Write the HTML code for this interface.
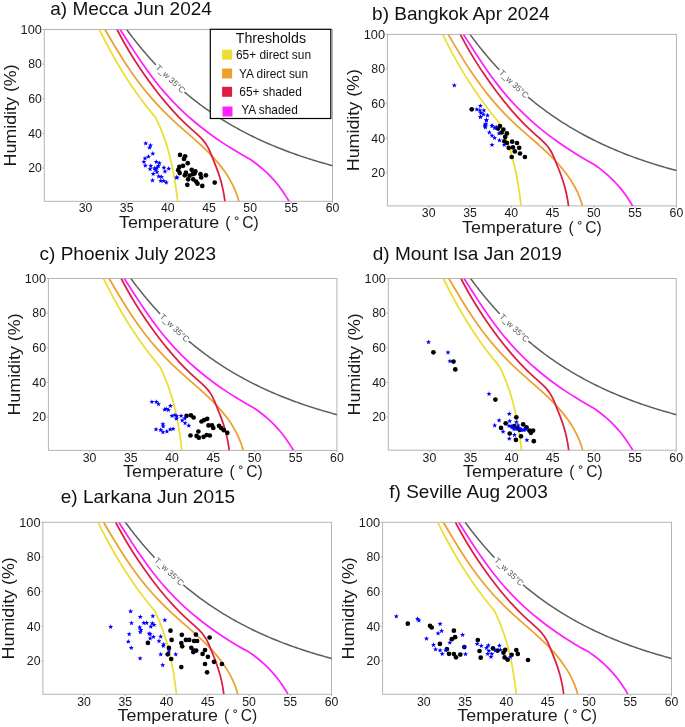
<!DOCTYPE html>
<html><head><meta charset="utf-8"><style>
html,body{margin:0;padding:0;background:#fff;}
body{width:685px;height:727px;overflow:hidden;}
svg{display:block;will-change:transform;}
text{font-family:"Liberation Sans",sans-serif;fill:#1a1a1a;}
.tk{font-size:12.4px;}
.al{font-size:15.6px;}
.ti{font-size:19px;fill:#111;}
.lg{font-size:11.9px;fill:#111;}
.lt{font-size:14.2px;fill:#111;}
.tw{font-size:8.4px;fill:#555;}
</style></head><body>
<svg width="685" height="727" viewBox="0 0 685 727"><defs><clipPath id="clipa"><rect x="44.3" y="29.5" width="288.20" height="171.80"/></clipPath><clipPath id="clipb"><rect x="387.4" y="34.4" width="289.00" height="171.50"/></clipPath><clipPath id="clipc"><rect x="48.4" y="278.5" width="288.50" height="171.90"/></clipPath><clipPath id="clipd"><rect x="388.3" y="278.5" width="287.90" height="171.70"/></clipPath><clipPath id="clipe"><rect x="42.9" y="522.3" width="288.60" height="172.00"/></clipPath><clipPath id="clipf"><rect x="382.6" y="522.3" width="288.90" height="172.00"/></clipPath><path id="star" d="M0.000,-2.650 L0.658,-0.906 L2.520,-0.819 L1.065,0.346 L1.558,2.144 L0.000,1.120 L-1.558,2.144 L-1.065,0.346 L-2.520,-0.819 L-0.658,-0.906Z"/></defs><rect width="685" height="727" fill="#fff"/><rect x="44.3" y="29.5" width="288.20" height="171.80" fill="none" stroke="#b4b4b4" stroke-width="1"/><line x1="42.5" y1="168.06" x2="44.3" y2="168.06" stroke="#b4b4b4" stroke-width="1"/><text x="28.24" y="172.36" class="tk" textLength="13.66" lengthAdjust="spacingAndGlyphs">20</text><line x1="42.5" y1="133.42" x2="44.3" y2="133.42" stroke="#b4b4b4" stroke-width="1"/><text x="28.24" y="137.72" class="tk" textLength="13.66" lengthAdjust="spacingAndGlyphs">40</text><line x1="42.5" y1="98.78" x2="44.3" y2="98.78" stroke="#b4b4b4" stroke-width="1"/><text x="28.24" y="103.08" class="tk" textLength="13.66" lengthAdjust="spacingAndGlyphs">60</text><line x1="42.5" y1="64.14" x2="44.3" y2="64.14" stroke="#b4b4b4" stroke-width="1"/><text x="28.24" y="68.44" class="tk" textLength="13.66" lengthAdjust="spacingAndGlyphs">80</text><line x1="42.5" y1="29.50" x2="44.3" y2="29.50" stroke="#b4b4b4" stroke-width="1"/><text x="20.59" y="33.80" class="tk" textLength="21.31" lengthAdjust="spacingAndGlyphs">100</text><line x1="85.47" y1="201.3" x2="85.47" y2="203.10000000000002" stroke="#b4b4b4" stroke-width="1"/><text x="78.64" y="211.90" class="tk" textLength="13.66" lengthAdjust="spacingAndGlyphs">30</text><line x1="126.64" y1="201.3" x2="126.64" y2="203.10000000000002" stroke="#b4b4b4" stroke-width="1"/><text x="119.82" y="211.90" class="tk" textLength="13.66" lengthAdjust="spacingAndGlyphs">35</text><line x1="167.81" y1="201.3" x2="167.81" y2="203.10000000000002" stroke="#b4b4b4" stroke-width="1"/><text x="160.99" y="211.90" class="tk" textLength="13.66" lengthAdjust="spacingAndGlyphs">40</text><line x1="208.99" y1="201.3" x2="208.99" y2="203.10000000000002" stroke="#b4b4b4" stroke-width="1"/><text x="202.16" y="211.90" class="tk" textLength="13.66" lengthAdjust="spacingAndGlyphs">45</text><line x1="250.16" y1="201.3" x2="250.16" y2="203.10000000000002" stroke="#b4b4b4" stroke-width="1"/><text x="243.33" y="211.90" class="tk" textLength="13.66" lengthAdjust="spacingAndGlyphs">50</text><line x1="291.33" y1="201.3" x2="291.33" y2="203.10000000000002" stroke="#b4b4b4" stroke-width="1"/><text x="284.50" y="211.90" class="tk" textLength="13.66" lengthAdjust="spacingAndGlyphs">55</text><line x1="332.50" y1="201.3" x2="332.50" y2="203.10000000000002" stroke="#b4b4b4" stroke-width="1"/><text x="325.67" y="211.90" class="tk" textLength="13.66" lengthAdjust="spacingAndGlyphs">60</text><text x="119.00" y="227.70" class="al" textLength="100.30" lengthAdjust="spacingAndGlyphs">Temperature</text><text x="225.30" y="227.70" class="al">(</text><circle cx="236.60" cy="218.20" r="1.45" fill="none" stroke="#1a1a1a" stroke-width="0.9"/><text x="242.20" y="227.70" class="al" textLength="16.50" lengthAdjust="spacingAndGlyphs">C)</text><text transform="translate(15.80,166.50) rotate(-90)" class="al" textLength="102.2" lengthAdjust="spacingAndGlyphs">Humidity (%)</text><text x="50.3" y="14.6" class="ti">a) Mecca Jun 2024</text><g clip-path="url(#clipa)" fill="none" stroke-width="1.75" stroke-linejoin="round"><path d="M126.64,29.50L127.01,30.00L127.38,30.51L127.75,31.01L128.12,31.51L128.49,32.01L128.86,32.50L129.23,33.00L129.60,33.49L129.97,33.98L130.34,34.47L130.71,34.96L131.08,35.45L131.45,35.94L131.82,36.42L132.19,36.90L132.56,37.38L132.93,37.86L133.30,38.34L133.67,38.82L134.04,39.29L134.41,39.77L134.78,40.24L135.15,40.71L135.52,41.18L135.89,41.65L136.26,42.11L136.63,42.58L137.00,43.04L137.37,43.51L137.74,43.97L138.11,44.43L138.48,44.88L138.85,45.34L139.22,45.79L139.59,46.25L139.96,46.70L140.33,47.15L140.70,47.60L141.07,48.05L141.44,48.50L141.81,48.94L142.18,49.38L142.55,49.83L142.92,50.27L143.29,50.71L143.66,51.15L144.03,51.58L144.40,52.02L144.77,52.45L145.14,52.89L145.51,53.32L145.88,53.75L146.25,54.18L146.62,54.61L146.99,55.03L147.36,55.46L147.73,55.88L148.10,56.30L148.47,56.72L148.84,57.14L149.21,57.56L149.58,57.98L149.95,58.40L150.32,58.81L150.69,59.22L151.06,59.64L151.43,60.05L151.80,60.46L152.17,60.87L152.54,61.27L152.91,61.68L153.28,62.08L153.65,62.49L154.02,62.89L154.39,63.29L154.76,63.69L155.13,64.09L155.50,64.48L155.87,64.88M184.45,92.08L186.37,93.69L188.30,95.28L190.23,96.85L192.15,98.39L194.08,99.90L196.00,101.40L197.93,102.87L199.86,104.31L201.78,105.74L203.71,107.14L205.64,108.52L207.56,109.88L209.49,111.22L211.41,112.54L213.34,113.84L215.27,115.12L217.19,116.38L219.12,117.61L221.05,118.84L222.97,120.04L224.90,121.22L226.82,122.39L228.75,123.54L230.68,124.67L232.60,125.78L234.53,126.88L236.45,127.96L238.38,129.02L240.31,130.07L242.23,131.10L244.16,132.12L246.09,133.12L248.01,134.10L249.94,135.07L251.86,136.03L253.79,136.97L255.72,137.90L257.64,138.82L259.57,139.72L261.50,140.60L263.42,141.48L265.35,142.34L267.27,143.19L269.20,144.02L271.13,144.85L273.05,145.66L274.98,146.46L276.91,147.25L278.83,148.02L280.76,148.79L282.68,149.54L284.61,150.28L286.54,151.01L288.46,151.73L290.39,152.44L292.31,153.14L294.24,153.83L296.17,154.51L298.09,155.18L300.02,155.84L301.95,156.49L303.87,157.13L305.80,157.76L307.72,158.38L309.65,158.99L311.58,159.60L313.50,160.19L315.43,160.78L317.36,161.36L319.28,161.93L321.21,162.49L323.13,163.04L325.06,163.59L326.99,164.13L328.91,164.66L330.84,165.18L332.76,165.69L334.69,166.20L336.62,166.70" stroke="#5e5e5e" stroke-width="1.5"/><path d="M99.37,29.50L99.87,30.50L100.36,31.50L100.86,32.50L101.36,33.49L101.86,34.49L102.36,35.49L102.87,36.49L103.38,37.49L103.89,38.49L104.40,39.49L104.91,40.49L105.43,41.49L105.95,42.49L106.47,43.48L107.00,44.48L107.53,45.48L108.06,46.48L108.59,47.48L109.13,48.48L109.67,49.48L110.21,50.48L110.75,51.48L111.30,52.47L111.85,53.47L112.41,54.47L112.97,55.47L113.53,56.47L114.09,57.47L114.66,58.47L115.23,59.47L115.80,60.46L116.38,61.46L116.96,62.46L117.54,63.46L118.13,64.46L118.72,65.46L119.31,66.46L119.91,67.46L120.51,68.46L121.12,69.45L121.72,70.45L122.34,71.45L122.95,72.45L123.57,73.45L124.20,74.45L124.83,75.45L125.46,76.45L126.10,77.45L126.74,78.44L127.38,79.44L128.03,80.44L128.69,81.44L129.34,82.44L130.01,83.44L130.67,84.44L131.34,85.44L132.02,86.44L132.70,87.43L133.38,88.43L134.07,89.43L134.76,90.43L135.46,91.43L136.17,92.43L136.87,93.43L137.59,94.43L138.30,95.43L139.03,96.42L139.75,97.42L140.49,98.42L141.22,99.42L141.97,100.42L142.71,101.42L143.47,102.42L144.23,103.42L144.99,104.42L145.76,105.41L146.53,106.41L147.31,107.41L148.10,108.41L148.89,109.41L149.68,110.41L150.48,111.41L151.29,112.41L152.10,113.40L152.92,114.40L153.75,115.40L154.58,116.40L155.47,117.40L156.02,118.40L156.51,119.40L156.99,120.40L157.46,121.40L157.92,122.39L158.38,123.39L158.83,124.39L159.27,125.39L159.70,126.39L160.13,127.39L160.55,128.39L160.96,129.39L161.37,130.39L161.77,131.38L162.17,132.38L162.55,133.38L162.93,134.38L163.31,135.38L163.68,136.38L164.04,137.38L164.39,138.38L164.74,139.38L165.09,140.38L165.43,141.37L165.76,142.37L166.08,143.37L166.40,144.37L166.72,145.37L167.03,146.37L167.33,147.37L167.63,148.37L167.92,149.37L168.21,150.37L168.49,151.36L168.77,152.36L169.04,153.36L169.31,154.36L169.57,155.36L169.83,156.36L170.09,157.36L170.33,158.36L170.58,159.36L170.82,160.35L171.05,161.35L171.28,162.35L171.51,163.35L171.73,164.35L171.95,165.35L172.16,166.35L172.37,167.35L172.58,168.35L172.78,169.34L172.98,170.34L173.17,171.34L173.36,172.34L173.55,173.34L173.73,174.34L173.91,175.34L174.09,176.34L174.26,177.34L174.43,178.33L174.60,179.33L174.77,180.33L174.93,181.33L175.09,182.33L175.24,183.33L175.40,184.33L175.55,185.33L175.69,186.33L175.84,187.32L175.98,188.32L176.12,189.32L176.26,190.32L176.40,191.32L176.53,192.32L176.66,193.32L176.79,194.32L176.92,195.32L177.05,196.31L177.17,197.31L177.29,198.31L177.41,199.31L177.53,200.31L177.65,201.31" stroke="#ecdf32"/><path d="M104.93,29.50L105.52,30.50L106.11,31.50L106.69,32.50L107.28,33.50L107.87,34.49L108.46,35.49L109.05,36.49L109.64,37.49L110.23,38.49L110.82,39.49L111.41,40.49L112.00,41.49L112.60,42.49L113.19,43.49L113.79,44.48L114.39,45.48L114.99,46.48L115.59,47.48L116.20,48.48L116.81,49.48L117.42,50.48L118.03,51.48L118.64,52.48L119.26,53.47L119.88,54.47L120.50,55.47L121.13,56.47L121.75,57.47L122.39,58.47L123.02,59.47L123.66,60.47L124.30,61.46L124.95,62.46L125.60,63.46L126.25,64.46L126.91,65.46L127.58,66.46L128.24,67.46L128.91,68.46L129.59,69.46L130.27,70.45L130.96,71.45L131.65,72.45L132.34,73.45L133.05,74.45L133.75,75.45L134.47,76.45L135.18,77.45L135.91,78.45L136.64,79.44L137.37,80.44L138.11,81.44L138.86,82.44L139.62,83.44L140.38,84.44L141.14,85.44L141.92,86.44L142.70,87.44L143.49,88.44L144.28,89.43L145.08,90.43L145.89,91.43L146.71,92.43L147.54,93.43L148.37,94.43L149.21,95.43L150.06,96.43L150.92,97.43L151.78,98.42L152.65,99.42L153.54,100.42L154.43,101.42L155.33,102.42L156.23,103.42L157.15,104.42L158.08,105.42L159.01,106.42L159.96,107.41L160.91,108.41L161.87,109.41L162.85,110.41L163.83,111.41L164.82,112.41L165.83,113.41L166.84,114.41L167.87,115.40L168.90,116.40L169.95,117.40L171.00,118.40L172.07,119.40L173.15,120.40L174.23,121.40L175.33,122.40L176.43,123.40L177.54,124.39L178.66,125.39L179.78,126.39L180.91,127.39L182.04,128.39L183.18,129.39L184.32,130.39L185.45,131.39L186.60,132.39L187.74,133.38L188.88,134.38L190.02,135.38L191.15,136.38L192.29,137.38L193.42,138.38L194.54,139.38L195.66,140.38L196.78,141.38L197.89,142.38L198.99,143.37L200.08,144.37L201.16,145.37L202.24,146.37L203.30,147.37L204.35,148.37L205.39,149.37L206.42,150.37L207.43,151.37L208.43,152.36L209.41,153.36L210.38,154.36L211.33,155.36L212.27,156.36L213.19,157.36L214.10,158.36L214.99,159.36L215.87,160.36L216.73,161.35L217.58,162.35L218.41,163.35L219.22,164.35L220.03,165.35L220.81,166.35L221.58,167.35L222.34,168.35L223.08,169.35L223.81,170.34L224.52,171.34L225.21,172.34L225.89,173.34L226.56,174.34L227.21,175.34L227.84,176.34L228.46,177.34L229.07,178.33L229.66,179.33L230.23,180.33L230.79,181.33L231.34,182.33L231.87,183.33L232.38,184.33L232.88,185.33L233.36,186.33L233.83,187.32L234.29,188.32L234.73,189.32L235.15,190.32L235.56,191.32L235.96,192.32L236.33,193.32L236.70,194.32L237.05,195.32L237.38,196.32L237.70,197.31L238.01,198.31L238.29,199.31L238.57,200.31L238.83,201.31" stroke="#eda02e"/><path d="M117.08,29.50L117.59,30.50L118.10,31.50L118.62,32.50L119.15,33.50L119.67,34.49L120.21,35.49L120.74,36.49L121.28,37.49L121.83,38.49L122.38,39.49L122.93,40.49L123.49,41.49L124.05,42.49L124.62,43.49L125.19,44.48L125.77,45.48L126.35,46.48L126.93,47.48L127.52,48.48L128.11,49.48L128.71,50.48L129.31,51.48L129.92,52.48L130.53,53.47L131.14,54.47L131.76,55.47L132.38,56.47L133.01,57.47L133.64,58.47L134.27,59.47L134.91,60.47L135.55,61.46L136.20,62.46L136.85,63.46L137.51,64.46L138.17,65.46L138.83,66.46L139.50,67.46L140.17,68.46L140.84,69.46L141.52,70.45L142.21,71.45L142.89,72.45L143.58,73.45L144.28,74.45L144.98,75.45L145.68,76.45L146.39,77.45L147.10,78.45L147.81,79.44L148.53,80.44L149.26,81.44L149.98,82.44L150.71,83.44L151.45,84.44L152.19,85.44L152.93,86.44L153.68,87.44L154.44,88.44L155.20,89.43L155.96,90.43L156.73,91.43L157.51,92.43L158.29,93.43L159.07,94.43L159.87,95.43L160.67,96.43L161.47,97.43L162.28,98.42L163.10,99.42L163.92,100.42L164.76,101.42L165.59,102.42L166.44,103.42L167.29,104.42L168.15,105.42L169.02,106.42L169.89,107.41L170.77,108.41L171.66,109.41L172.56,110.41L173.47,111.41L174.38,112.41L175.31,113.41L176.24,114.41L177.18,115.40L178.14,116.40L179.10,117.40L180.08,118.40L181.06,119.40L182.06,120.40L183.07,121.40L184.10,122.40L185.14,123.40L186.19,124.39L187.26,125.39L188.34,126.39L189.44,127.39L190.56,128.39L191.68,129.39L192.81,130.39L193.94,131.39L195.07,132.39L196.18,133.38L197.27,134.38L198.35,135.38L199.39,136.38L200.40,137.38L201.38,138.38L202.30,139.38L203.18,140.38L204.00,141.38L204.77,142.38L205.49,143.37L206.16,144.37L206.79,145.37L207.37,146.37L207.93,147.37L208.45,148.37L208.94,149.37L209.41,150.37L209.86,151.37L210.29,152.36L210.71,153.36L211.12,154.36L211.52,155.36L211.93,156.36L212.33,157.36L212.74,158.36L213.14,159.36L213.55,160.36L213.95,161.35L214.35,162.35L214.75,163.35L215.15,164.35L215.54,165.35L215.93,166.35L216.32,167.35L216.70,168.35L217.07,169.35L217.44,170.34L217.80,171.34L218.15,172.34L218.49,173.34L218.83,174.34L219.16,175.34L219.48,176.34L219.79,177.34L220.10,178.33L220.39,179.33L220.68,180.33L220.96,181.33L221.23,182.33L221.50,183.33L221.76,184.33L222.01,185.33L222.25,186.33L222.48,187.32L222.70,188.32L222.92,189.32L223.13,190.32L223.33,191.32L223.52,192.32L223.71,193.32L223.89,194.32L224.06,195.32L224.22,196.32L224.37,197.31L224.52,198.31L224.65,199.31L224.78,200.31L224.90,201.31" stroke="#da1f42"/><path d="M120.10,29.50L120.75,30.50L121.39,31.49L122.04,32.48L122.68,33.48L123.32,34.47L123.96,35.47L124.60,36.46L125.24,37.46L125.88,38.45L126.52,39.45L127.16,40.44L127.80,41.44L128.44,42.43L129.08,43.43L129.73,44.42L130.37,45.42L131.01,46.41L131.66,47.40L132.30,48.40L132.95,49.39L133.60,50.39L134.25,51.38L134.90,52.38L135.55,53.37L136.21,54.37L136.87,55.36L137.53,56.36L138.19,57.35L138.86,58.35L139.53,59.34L140.20,60.33L140.88,61.33L141.56,62.32L142.24,63.32L142.93,64.31L143.62,65.31L144.32,66.30L145.02,67.30L145.72,68.29L146.43,69.29L147.14,70.28L147.86,71.28L148.58,72.27L149.31,73.26L150.05,74.26L150.79,75.25L151.53,76.25L152.28,77.24L153.04,78.24L153.81,79.23L154.58,80.23L155.35,81.22L156.14,82.22L156.93,83.21L157.72,84.21L158.53,85.20L159.34,86.19L160.16,87.19L160.98,88.19L161.82,89.18L162.66,90.17L163.51,91.17L164.37,92.16L165.24,93.16L166.11,94.15L167.00,95.15L167.89,96.14L168.79,97.14L169.71,98.13L170.63,99.13L171.56,100.12L172.50,101.12L173.45,102.11L174.41,103.11L175.38,104.10L176.36,105.09L177.35,106.09L178.35,107.08L179.37,108.08L180.39,109.07L181.42,110.07L182.47,111.06L183.53,112.06L184.60,113.05L185.68,114.05L186.77,115.04L187.88,116.04L188.99,117.03L190.12,118.02L191.27,119.02L192.42,120.01L193.59,121.01L194.77,122.00L195.97,123.00L197.17,123.99L198.39,124.99L199.63,125.98L200.88,126.98L202.14,127.97L203.42,128.97L204.71,129.96L206.01,130.95L207.33,131.95L208.67,132.94L210.02,133.94L211.39,134.93L212.77,135.93L214.16,136.92L215.57,137.92L217.00,138.91L218.44,139.91L219.90,140.90L221.38,141.90L222.87,142.89L224.38,143.88L225.90,144.88L227.45,145.88L229.01,146.87L230.58,147.86L232.18,148.86L233.79,149.85L235.42,150.85L237.06,151.84L238.73,152.84L240.41,153.83L242.11,154.83L243.83,155.82L245.57,156.82L247.33,157.81L249.10,158.81L250.85,159.80L252.21,160.79L253.58,161.78L254.92,162.76L256.22,163.75L257.50,164.74L258.74,165.73L259.96,166.72L261.15,167.71L262.31,168.69L263.44,169.68L264.55,170.67L265.63,171.66L266.69,172.65L267.72,173.64L268.72,174.62L269.71,175.61L270.67,176.60L271.61,177.59L272.52,178.58L273.42,179.57L274.29,180.56L275.15,181.54L275.98,182.53L276.80,183.52L277.60,184.51L278.38,185.50L279.14,186.49L279.89,187.47L280.63,188.46L281.34,189.45L282.05,190.44L282.74,191.43L283.41,192.42L284.08,193.40L284.73,194.39L285.37,195.38L286.00,196.37L286.62,197.36L287.23,198.35L287.83,199.33L288.43,200.32L289.02,201.31" stroke="#ff1fff"/></g><text transform="translate(170.12,79.24) rotate(43.48)" class="tw" text-anchor="middle" dy="2.4">T_w 35°C</text><circle cx="180" cy="154.9" r="2.35" fill="#000"/><circle cx="185.1" cy="156.3" r="2.35" fill="#000"/><circle cx="184" cy="158.9" r="2.35" fill="#000"/><circle cx="187.7" cy="163.2" r="2.35" fill="#000"/><circle cx="183" cy="165.8" r="2.35" fill="#000"/><circle cx="179.3" cy="166.9" r="2.35" fill="#000"/><circle cx="178.2" cy="170.2" r="2.35" fill="#000"/><circle cx="179.7" cy="173.1" r="2.35" fill="#000"/><circle cx="191.7" cy="169.8" r="2.35" fill="#000"/><circle cx="195.4" cy="171.3" r="2.35" fill="#000"/><circle cx="185.9" cy="172.7" r="2.35" fill="#000"/><circle cx="184.8" cy="175.3" r="2.35" fill="#000"/><circle cx="189.5" cy="175.7" r="2.35" fill="#000"/><circle cx="192.8" cy="174.2" r="2.35" fill="#000"/><circle cx="200.5" cy="174.2" r="2.35" fill="#000"/><circle cx="205.9" cy="175.3" r="2.35" fill="#000"/><circle cx="201.2" cy="177.5" r="2.35" fill="#000"/><circle cx="188.1" cy="179.3" r="2.35" fill="#000"/><circle cx="193.2" cy="179.3" r="2.35" fill="#000"/><circle cx="196.1" cy="181.5" r="2.35" fill="#000"/><circle cx="197.5" cy="183.7" r="2.35" fill="#000"/><circle cx="202.3" cy="185.9" r="2.35" fill="#000"/><circle cx="187.3" cy="184.8" r="2.35" fill="#000"/><circle cx="214.7" cy="182.6" r="2.35" fill="#000"/><circle cx="194.6" cy="173.5" r="2.35" fill="#000"/><use href="#star" x="145.7" y="143.3" fill="#0000ff"/><use href="#star" x="150.5" y="145.3" fill="#0000ff"/><use href="#star" x="149.5" y="147.7" fill="#0000ff"/><use href="#star" x="152.8" y="153.6" fill="#0000ff"/><use href="#star" x="148.4" y="156.7" fill="#0000ff"/><use href="#star" x="145" y="158.4" fill="#0000ff"/><use href="#star" x="143.9" y="161.8" fill="#0000ff"/><use href="#star" x="145.3" y="165.6" fill="#0000ff"/><use href="#star" x="156.3" y="161.8" fill="#0000ff"/><use href="#star" x="159.4" y="163.2" fill="#0000ff"/><use href="#star" x="158.4" y="166" fill="#0000ff"/><use href="#star" x="150.8" y="166" fill="#0000ff"/><use href="#star" x="150.1" y="169.1" fill="#0000ff"/><use href="#star" x="154.6" y="168.4" fill="#0000ff"/><use href="#star" x="157" y="167.7" fill="#0000ff"/><use href="#star" x="163.9" y="167.7" fill="#0000ff"/><use href="#star" x="168.7" y="168.7" fill="#0000ff"/><use href="#star" x="164.9" y="171.5" fill="#0000ff"/><use href="#star" x="157" y="172.2" fill="#0000ff"/><use href="#star" x="153.2" y="173.9" fill="#0000ff"/><use href="#star" x="158.7" y="176.3" fill="#0000ff"/><use href="#star" x="161.5" y="177" fill="#0000ff"/><use href="#star" x="152.5" y="180.4" fill="#0000ff"/><use href="#star" x="160.8" y="180.8" fill="#0000ff"/><use href="#star" x="163.6" y="180.8" fill="#0000ff"/><use href="#star" x="166.3" y="182.5" fill="#0000ff"/><use href="#star" x="177" y="177.7" fill="#0000ff"/><use href="#star" x="155.6" y="169.8" fill="#0000ff"/><use href="#star" x="176.7" y="177.5" fill="#0000ff"/><rect x="387.4" y="34.4" width="289.00" height="171.50" fill="none" stroke="#b4b4b4" stroke-width="1"/><line x1="385.59999999999997" y1="172.96" x2="387.4" y2="172.96" stroke="#b4b4b4" stroke-width="1"/><text x="371.34" y="177.26" class="tk" textLength="13.66" lengthAdjust="spacingAndGlyphs">20</text><line x1="385.59999999999997" y1="138.32" x2="387.4" y2="138.32" stroke="#b4b4b4" stroke-width="1"/><text x="371.34" y="142.62" class="tk" textLength="13.66" lengthAdjust="spacingAndGlyphs">40</text><line x1="385.59999999999997" y1="103.68" x2="387.4" y2="103.68" stroke="#b4b4b4" stroke-width="1"/><text x="371.34" y="107.98" class="tk" textLength="13.66" lengthAdjust="spacingAndGlyphs">60</text><line x1="385.59999999999997" y1="69.04" x2="387.4" y2="69.04" stroke="#b4b4b4" stroke-width="1"/><text x="371.34" y="73.34" class="tk" textLength="13.66" lengthAdjust="spacingAndGlyphs">80</text><line x1="385.59999999999997" y1="34.40" x2="387.4" y2="34.40" stroke="#b4b4b4" stroke-width="1"/><text x="363.69" y="38.70" class="tk" textLength="21.31" lengthAdjust="spacingAndGlyphs">100</text><line x1="428.69" y1="205.9" x2="428.69" y2="207.70000000000002" stroke="#b4b4b4" stroke-width="1"/><text x="421.86" y="216.50" class="tk" textLength="13.66" lengthAdjust="spacingAndGlyphs">30</text><line x1="469.97" y1="205.9" x2="469.97" y2="207.70000000000002" stroke="#b4b4b4" stroke-width="1"/><text x="463.14" y="216.50" class="tk" textLength="13.66" lengthAdjust="spacingAndGlyphs">35</text><line x1="511.26" y1="205.9" x2="511.26" y2="207.70000000000002" stroke="#b4b4b4" stroke-width="1"/><text x="504.43" y="216.50" class="tk" textLength="13.66" lengthAdjust="spacingAndGlyphs">40</text><line x1="552.54" y1="205.9" x2="552.54" y2="207.70000000000002" stroke="#b4b4b4" stroke-width="1"/><text x="545.72" y="216.50" class="tk" textLength="13.66" lengthAdjust="spacingAndGlyphs">45</text><line x1="593.83" y1="205.9" x2="593.83" y2="207.70000000000002" stroke="#b4b4b4" stroke-width="1"/><text x="587.00" y="216.50" class="tk" textLength="13.66" lengthAdjust="spacingAndGlyphs">50</text><line x1="635.11" y1="205.9" x2="635.11" y2="207.70000000000002" stroke="#b4b4b4" stroke-width="1"/><text x="628.29" y="216.50" class="tk" textLength="13.66" lengthAdjust="spacingAndGlyphs">55</text><line x1="676.40" y1="205.9" x2="676.40" y2="207.70000000000002" stroke="#b4b4b4" stroke-width="1"/><text x="669.57" y="216.50" class="tk" textLength="13.66" lengthAdjust="spacingAndGlyphs">60</text><text x="462.10" y="233.10" class="al" textLength="100.30" lengthAdjust="spacingAndGlyphs">Temperature</text><text x="568.40" y="233.10" class="al">(</text><circle cx="579.70" cy="222.80" r="1.45" fill="none" stroke="#1a1a1a" stroke-width="0.9"/><text x="585.30" y="233.10" class="al" textLength="16.50" lengthAdjust="spacingAndGlyphs">C)</text><text transform="translate(358.90,171.25) rotate(-90)" class="al" textLength="102.2" lengthAdjust="spacingAndGlyphs">Humidity (%)</text><text x="372.1" y="19.9" class="ti">b) Bangkok Apr 2024</text><g clip-path="url(#clipb)" fill="none" stroke-width="1.75" stroke-linejoin="round"><path d="M469.97,34.40L470.34,34.90L470.71,35.41L471.08,35.91L471.46,36.41L471.83,36.91L472.20,37.40L472.57,37.90L472.94,38.39L473.31,38.88L473.68,39.37L474.05,39.86L474.42,40.35L474.80,40.84L475.17,41.32L475.54,41.80L475.91,42.28L476.28,42.76L476.65,43.24L477.02,43.72L477.39,44.19L477.76,44.67L478.13,45.14L478.51,45.61L478.88,46.08L479.25,46.55L479.62,47.01L479.99,47.48L480.36,47.94L480.73,48.41L481.10,48.87L481.47,49.33L481.84,49.78L482.22,50.24L482.59,50.69L482.96,51.15L483.33,51.60L483.70,52.05L484.07,52.50L484.44,52.95L484.81,53.40L485.18,53.84L485.56,54.28L485.93,54.73L486.30,55.17L486.67,55.61L487.04,56.05L487.41,56.48L487.78,56.92L488.15,57.35L488.52,57.79L488.89,58.22L489.27,58.65L489.64,59.08L490.01,59.51L490.38,59.93L490.75,60.36L491.12,60.78L491.49,61.20L491.86,61.62L492.23,62.04L492.61,62.46L492.98,62.88L493.35,63.30L493.72,63.71L494.09,64.12L494.46,64.54L494.83,64.95L495.20,65.36L495.57,65.77L495.94,66.17L496.32,66.58L496.69,66.98L497.06,67.39L497.43,67.79L497.80,68.19L498.17,68.59L498.54,68.99L498.91,69.38L499.28,69.78M527.94,96.98L529.87,98.59L531.80,100.18L533.73,101.75L535.66,103.29L537.59,104.80L539.53,106.30L541.46,107.77L543.39,109.21L545.32,110.64L547.25,112.04L549.18,113.42L551.12,114.78L553.05,116.12L554.98,117.44L556.91,118.74L558.84,120.02L560.77,121.28L562.70,122.51L564.64,123.74L566.57,124.94L568.50,126.12L570.43,127.29L572.36,128.44L574.29,129.57L576.23,130.68L578.16,131.78L580.09,132.86L582.02,133.92L583.95,134.97L585.88,136.00L587.81,137.02L589.75,138.02L591.68,139.00L593.61,139.97L595.54,140.93L597.47,141.87L599.40,142.80L601.34,143.72L603.27,144.62L605.20,145.50L607.13,146.38L609.06,147.24L610.99,148.09L612.92,148.92L614.86,149.75L616.79,150.56L618.72,151.36L620.65,152.15L622.58,152.92L624.51,153.69L626.45,154.44L628.38,155.18L630.31,155.91L632.24,156.63L634.17,157.34L636.10,158.04L638.03,158.73L639.97,159.41L641.90,160.08L643.83,160.74L645.76,161.39L647.69,162.03L649.62,162.66L651.56,163.28L653.49,163.89L655.42,164.50L657.35,165.09L659.28,165.68L661.21,166.26L663.14,166.83L665.08,167.39L667.01,167.94L668.94,168.49L670.87,169.03L672.80,169.56L674.73,170.08L676.67,170.59L678.60,171.10L680.53,171.60" stroke="#5e5e5e" stroke-width="1.5"/><path d="M442.63,34.40L443.12,35.40L443.62,36.40L444.12,37.40L444.62,38.39L445.12,39.39L445.62,40.39L446.13,41.39L446.64,42.39L447.15,43.39L447.67,44.39L448.18,45.39L448.70,46.39L449.22,47.39L449.75,48.38L450.27,49.38L450.80,50.38L451.34,51.38L451.87,52.38L452.41,53.38L452.95,54.38L453.49,55.38L454.04,56.38L454.59,57.37L455.14,58.37L455.70,59.37L456.26,60.37L456.82,61.37L457.38,62.37L457.95,63.37L458.52,64.37L459.10,65.36L459.68,66.36L460.26,67.36L460.84,68.36L461.43,69.36L462.02,70.36L462.62,71.36L463.22,72.36L463.82,73.36L464.43,74.35L465.04,75.35L465.65,76.35L466.27,77.35L466.89,78.35L467.52,79.35L468.15,80.35L468.79,81.35L469.42,82.34L470.07,83.34L470.71,84.34L471.36,85.34L472.02,86.34L472.68,87.34L473.34,88.34L474.01,89.34L474.68,90.34L475.36,91.34L476.04,92.33L476.73,93.33L477.42,94.33L478.12,95.33L478.82,96.33L479.52,97.33L480.23,98.33L480.95,99.33L481.67,100.33L482.39,101.32L483.12,102.32L483.85,103.32L484.59,104.32L485.34,105.32L486.09,106.32L486.84,107.32L487.60,108.32L488.37,109.32L489.14,110.31L489.92,111.31L490.70,112.31L491.48,113.31L492.28,114.31L493.08,115.31L493.88,116.31L494.69,117.31L495.50,118.30L496.32,119.30L497.15,120.30L497.98,121.30L498.88,122.30L499.43,123.30L499.92,124.30L500.40,125.30L500.87,126.30L501.34,127.29L501.79,128.29L502.24,129.29L502.69,130.29L503.12,131.29L503.55,132.29L503.97,133.29L504.39,134.29L504.80,135.29L505.20,136.28L505.59,137.28L505.98,138.28L506.36,139.28L506.74,140.28L507.11,141.28L507.47,142.28L507.83,143.28L508.18,144.28L508.52,145.28L508.86,146.27L509.19,147.27L509.52,148.27L509.84,149.27L510.16,150.27L510.47,151.27L510.77,152.27L511.07,153.27L511.37,154.27L511.66,155.27L511.94,156.26L512.22,157.26L512.49,158.26L512.76,159.26L513.02,160.26L513.28,161.26L513.53,162.26L513.78,163.26L514.03,164.26L514.27,165.25L514.50,166.25L514.73,167.25L514.96,168.25L515.18,169.25L515.40,170.25L515.62,171.25L515.83,172.25L516.03,173.25L516.24,174.24L516.43,175.24L516.63,176.24L516.82,177.24L517.01,178.24L517.19,179.24L517.37,180.24L517.55,181.24L517.73,182.24L517.90,183.23L518.06,184.23L518.23,185.23L518.39,186.23L518.55,187.23L518.71,188.23L518.86,189.23L519.01,190.23L519.16,191.23L519.30,192.22L519.45,193.22L519.59,194.22L519.73,195.22L519.86,196.22L520.00,197.22L520.13,198.22L520.26,199.22L520.39,200.22L520.51,201.22L520.64,202.21L520.76,203.21L520.88,204.21L521.00,205.21L521.12,206.21" stroke="#ecdf32"/><path d="M448.20,34.40L448.79,35.40L449.38,36.40L449.97,37.40L450.56,38.40L451.15,39.39L451.74,40.39L452.33,41.39L452.92,42.39L453.51,43.39L454.10,44.39L454.70,45.39L455.29,46.39L455.89,47.39L456.48,48.39L457.08,49.38L457.68,50.38L458.29,51.38L458.89,52.38L459.50,53.38L460.11,54.38L460.72,55.38L461.33,56.38L461.95,57.38L462.57,58.37L463.19,59.37L463.81,60.37L464.44,61.37L465.07,62.37L465.70,63.37L466.34,64.37L466.98,65.37L467.63,66.36L468.27,67.36L468.93,68.36L469.58,69.36L470.24,70.36L470.91,71.36L471.58,72.36L472.25,73.36L472.93,74.36L473.61,75.35L474.30,76.35L474.99,77.35L475.69,78.35L476.39,79.35L477.10,80.35L477.82,81.35L478.54,82.35L479.26,83.35L479.99,84.34L480.73,85.34L481.47,86.34L482.22,87.34L482.98,88.34L483.74,89.34L484.51,90.34L485.29,91.34L486.07,92.34L486.86,93.33L487.66,94.33L488.46,95.33L489.28,96.33L490.10,97.33L490.92,98.33L491.76,99.33L492.60,100.33L493.45,101.33L494.31,102.33L495.18,103.32L496.05,104.32L496.94,105.32L497.83,106.32L498.73,107.32L499.64,108.32L500.56,109.32L501.49,110.32L502.43,111.32L503.38,112.31L504.33,113.31L505.30,114.31L506.28,115.31L507.26,116.31L508.26,117.31L509.27,118.31L510.28,119.31L511.31,120.30L512.35,121.30L513.40,122.30L514.45,123.30L515.52,124.30L516.60,125.30L517.69,126.30L518.79,127.30L519.90,128.30L521.01,129.29L522.13,130.29L523.26,131.29L524.39,132.29L525.52,133.29L526.66,134.29L527.80,135.29L528.95,136.29L530.09,137.29L531.23,138.28L532.38,139.28L533.52,140.28L534.66,141.28L535.80,142.28L536.93,143.28L538.06,144.28L539.18,145.28L540.30,146.28L541.41,147.28L542.52,148.27L543.61,149.27L544.70,150.27L545.78,151.27L546.84,152.27L547.90,153.27L548.94,154.27L549.97,155.27L550.98,156.27L551.98,157.26L552.97,158.26L553.94,159.26L554.90,160.26L555.84,161.26L556.76,162.26L557.67,163.26L558.56,164.26L559.44,165.26L560.31,166.25L561.16,167.25L561.99,168.25L562.81,169.25L563.61,170.25L564.40,171.25L565.17,172.25L565.93,173.25L566.68,174.25L567.40,175.24L568.12,176.24L568.81,177.24L569.50,178.24L570.16,179.24L570.81,180.24L571.45,181.24L572.07,182.24L572.68,183.23L573.27,184.23L573.85,185.23L574.41,186.23L574.96,187.23L575.49,188.23L576.00,189.23L576.50,190.23L576.99,191.23L577.46,192.22L577.92,193.22L578.36,194.22L578.78,195.22L579.19,196.22L579.59,197.22L579.97,198.22L580.33,199.22L580.68,200.22L581.02,201.22L581.34,202.21L581.64,203.21L581.93,204.21L582.21,205.21L582.47,206.21" stroke="#eda02e"/><path d="M460.38,34.40L460.89,35.40L461.41,36.40L461.93,37.40L462.45,38.40L462.98,39.39L463.52,40.39L464.05,41.39L464.60,42.39L465.14,43.39L465.70,44.39L466.25,45.39L466.81,46.39L467.38,47.39L467.94,48.39L468.52,49.38L469.09,50.38L469.68,51.38L470.26,52.38L470.85,53.38L471.45,54.38L472.04,55.38L472.65,56.38L473.25,57.38L473.87,58.37L474.48,59.37L475.10,60.37L475.72,61.37L476.35,62.37L476.99,63.37L477.62,64.37L478.26,65.37L478.91,66.36L479.56,67.36L480.21,68.36L480.87,69.36L481.53,70.36L482.19,71.36L482.86,72.36L483.53,73.36L484.21,74.36L484.89,75.35L485.58,76.35L486.27,77.35L486.96,78.35L487.66,79.35L488.36,80.35L489.06,81.35L489.77,82.35L490.48,83.35L491.20,84.34L491.92,85.34L492.65,86.34L493.38,87.34L494.11,88.34L494.85,89.34L495.59,90.34L496.34,91.34L497.09,92.34L497.84,93.33L498.60,94.33L499.37,95.33L500.14,96.33L500.92,97.33L501.70,98.33L502.49,99.33L503.29,100.33L504.09,101.33L504.90,102.33L505.71,103.32L506.53,104.32L507.36,105.32L508.19,106.32L509.03,107.32L509.88,108.32L510.73,109.32L511.59,110.32L512.46,111.32L513.34,112.31L514.23,113.31L515.12,114.31L516.02,115.31L516.93,116.31L517.85,117.31L518.77,118.31L519.71,119.31L520.65,120.30L521.61,121.30L522.58,122.30L523.55,123.30L524.54,124.30L525.54,125.30L526.56,126.30L527.59,127.30L528.63,128.30L529.69,129.29L530.76,130.29L531.84,131.29L532.95,132.29L534.06,133.29L535.19,134.29L536.32,135.29L537.46,136.29L538.58,137.29L539.70,138.28L540.80,139.28L541.88,140.28L542.92,141.28L543.94,142.28L544.91,143.28L545.84,144.28L546.72,145.28L547.55,146.28L548.32,147.28L549.03,148.27L549.71,149.27L550.34,150.27L550.93,151.27L551.48,152.27L552.00,153.27L552.50,154.27L552.97,155.27L553.42,156.27L553.85,157.26L554.27,158.26L554.68,159.26L555.09,160.26L555.49,161.26L555.90,162.26L556.30,163.26L556.71,164.26L557.12,165.26L557.52,166.25L557.92,167.25L558.33,168.25L558.72,169.25L559.12,170.25L559.51,171.25L559.90,172.25L560.28,173.25L560.65,174.25L561.02,175.24L561.38,176.24L561.73,177.24L562.08,178.24L562.42,179.24L562.74,180.24L563.07,181.24L563.38,182.24L563.68,183.23L563.98,184.23L564.27,185.23L564.55,186.23L564.83,187.23L565.09,188.23L565.35,189.23L565.60,190.23L565.84,191.23L566.07,192.22L566.30,193.22L566.52,194.22L566.73,195.22L566.93,196.22L567.12,197.22L567.31,198.22L567.49,199.22L567.66,200.22L567.82,201.22L567.97,202.21L568.12,203.21L568.25,204.21L568.38,205.21L568.50,206.21" stroke="#da1f42"/><path d="M463.41,34.40L464.06,35.40L464.71,36.39L465.35,37.38L466.00,38.38L466.64,39.37L467.28,40.37L467.93,41.36L468.57,42.36L469.21,43.35L469.85,44.35L470.49,45.34L471.14,46.34L471.78,47.33L472.42,48.33L473.06,49.32L473.71,50.32L474.35,51.31L475.00,52.30L475.64,53.30L476.29,54.29L476.94,55.29L477.60,56.28L478.25,57.28L478.91,58.27L479.56,59.27L480.22,60.26L480.89,61.26L481.55,62.25L482.22,63.25L482.89,64.24L483.57,65.23L484.25,66.23L484.93,67.22L485.61,68.22L486.30,69.21L487.00,70.21L487.69,71.20L488.40,72.20L489.10,73.19L489.81,74.19L490.53,75.18L491.25,76.18L491.97,77.17L492.71,78.16L493.44,79.16L494.18,80.15L494.93,81.15L495.68,82.14L496.44,83.14L497.21,84.13L497.98,85.13L498.76,86.12L499.55,87.12L500.34,88.11L501.14,89.11L501.94,90.10L502.76,91.09L503.58,92.09L504.41,93.09L505.24,94.08L506.09,95.07L506.94,96.07L507.80,97.06L508.67,98.06L509.55,99.05L510.44,100.05L511.33,101.04L512.24,102.04L513.15,103.03L514.08,104.03L515.01,105.02L515.95,106.02L516.91,107.01L517.87,108.01L518.84,109.00L519.83,109.99L520.82,110.99L521.83,111.98L522.84,112.98L523.87,113.97L524.91,114.97L525.95,115.96L527.02,116.96L528.09,117.95L529.17,118.95L530.27,119.94L531.38,120.94L532.50,121.93L533.63,122.92L534.77,123.92L535.93,124.91L537.10,125.91L538.29,126.90L539.49,127.90L540.70,128.89L541.92,129.89L543.16,130.88L544.41,131.88L545.68,132.87L546.96,133.87L548.25,134.86L549.56,135.85L550.89,136.85L552.23,137.84L553.58,138.84L554.95,139.83L556.33,140.83L557.73,141.82L559.15,142.82L560.58,143.81L562.03,144.81L563.49,145.80L564.97,146.80L566.47,147.79L567.98,148.78L569.51,149.78L571.06,150.77L572.62,151.77L574.20,152.76L575.80,153.76L577.41,154.75L579.05,155.75L580.70,156.74L582.37,157.74L584.06,158.73L585.76,159.73L587.49,160.72L589.23,161.72L590.99,162.71L592.77,163.71L594.53,164.70L595.89,165.69L597.26,166.68L598.60,167.66L599.91,168.65L601.19,169.64L602.44,170.63L603.66,171.62L604.85,172.61L606.02,173.59L607.15,174.58L608.26,175.57L609.35,176.56L610.40,177.55L611.44,178.54L612.45,179.53L613.43,180.51L614.40,181.50L615.34,182.49L616.26,183.48L617.15,184.47L618.03,185.46L618.89,186.44L619.73,187.43L620.54,188.42L621.35,189.41L622.13,190.40L622.90,191.39L623.65,192.37L624.38,193.36L625.10,194.35L625.81,195.34L626.50,196.33L627.18,197.32L627.84,198.30L628.50,199.29L629.14,200.28L629.77,201.27L630.39,202.26L631.01,203.25L631.61,204.23L632.21,205.22L632.79,206.21" stroke="#ff1fff"/></g><text transform="translate(513.57,84.14) rotate(43.40)" class="tw" text-anchor="middle" dy="2.4">T_w 35°C</text><circle cx="471.7" cy="109.3" r="2.35" fill="#000"/><circle cx="499.9" cy="126" r="2.35" fill="#000"/><circle cx="503.4" cy="129.5" r="2.35" fill="#000"/><circle cx="501.6" cy="132.5" r="2.35" fill="#000"/><circle cx="506.9" cy="133.4" r="2.35" fill="#000"/><circle cx="505.2" cy="136.9" r="2.35" fill="#000"/><circle cx="504.3" cy="141.3" r="2.35" fill="#000"/><circle cx="506.9" cy="143" r="2.35" fill="#000"/><circle cx="512.2" cy="141.7" r="2.35" fill="#000"/><circle cx="517" cy="143" r="2.35" fill="#000"/><circle cx="508.7" cy="147.8" r="2.35" fill="#000"/><circle cx="513" cy="147.4" r="2.35" fill="#000"/><circle cx="519.2" cy="147.8" r="2.35" fill="#000"/><circle cx="514.8" cy="151.4" r="2.35" fill="#000"/><circle cx="520" cy="153.5" r="2.35" fill="#000"/><circle cx="511.7" cy="157" r="2.35" fill="#000"/><circle cx="524.9" cy="157" r="2.35" fill="#000"/><circle cx="498.1" cy="128.6" r="2.35" fill="#000"/><use href="#star" x="454.3" y="85.3" fill="#0000ff"/><use href="#star" x="480.4" y="105.8" fill="#0000ff"/><use href="#star" x="476.8" y="109.3" fill="#0000ff"/><use href="#star" x="479.9" y="110.4" fill="#0000ff"/><use href="#star" x="483.9" y="110.4" fill="#0000ff"/><use href="#star" x="480.9" y="112.9" fill="#0000ff"/><use href="#star" x="483.4" y="114.5" fill="#0000ff"/><use href="#star" x="487.5" y="115.5" fill="#0000ff"/><use href="#star" x="480.4" y="117" fill="#0000ff"/><use href="#star" x="486.5" y="120.1" fill="#0000ff"/><use href="#star" x="486" y="124.2" fill="#0000ff"/><use href="#star" x="485" y="126.2" fill="#0000ff"/><use href="#star" x="492.1" y="125.7" fill="#0000ff"/><use href="#star" x="496.2" y="127.2" fill="#0000ff"/><use href="#star" x="480.6" y="116.8" fill="#0000ff"/><use href="#star" x="486.3" y="120.3" fill="#0000ff"/><use href="#star" x="485" y="124.6" fill="#0000ff"/><use href="#star" x="485.4" y="127.3" fill="#0000ff"/><use href="#star" x="492" y="126" fill="#0000ff"/><use href="#star" x="494.6" y="128.1" fill="#0000ff"/><use href="#star" x="489.4" y="132.5" fill="#0000ff"/><use href="#star" x="492" y="135.6" fill="#0000ff"/><use href="#star" x="499" y="133.4" fill="#0000ff"/><use href="#star" x="494.6" y="137.8" fill="#0000ff"/><use href="#star" x="499.5" y="140.4" fill="#0000ff"/><use href="#star" x="504.3" y="144.8" fill="#0000ff"/><use href="#star" x="492" y="144.8" fill="#0000ff"/><rect x="48.4" y="278.5" width="288.50" height="171.90" fill="none" stroke="#b4b4b4" stroke-width="1"/><line x1="46.6" y1="417.06" x2="48.4" y2="417.06" stroke="#b4b4b4" stroke-width="1"/><text x="32.34" y="421.36" class="tk" textLength="13.66" lengthAdjust="spacingAndGlyphs">20</text><line x1="46.6" y1="382.42" x2="48.4" y2="382.42" stroke="#b4b4b4" stroke-width="1"/><text x="32.34" y="386.72" class="tk" textLength="13.66" lengthAdjust="spacingAndGlyphs">40</text><line x1="46.6" y1="347.78" x2="48.4" y2="347.78" stroke="#b4b4b4" stroke-width="1"/><text x="32.34" y="352.08" class="tk" textLength="13.66" lengthAdjust="spacingAndGlyphs">60</text><line x1="46.6" y1="313.14" x2="48.4" y2="313.14" stroke="#b4b4b4" stroke-width="1"/><text x="32.34" y="317.44" class="tk" textLength="13.66" lengthAdjust="spacingAndGlyphs">80</text><line x1="46.6" y1="278.50" x2="48.4" y2="278.50" stroke="#b4b4b4" stroke-width="1"/><text x="24.69" y="282.80" class="tk" textLength="21.31" lengthAdjust="spacingAndGlyphs">100</text><line x1="89.61" y1="450.4" x2="89.61" y2="452.2" stroke="#b4b4b4" stroke-width="1"/><text x="82.79" y="461.80" class="tk" textLength="13.66" lengthAdjust="spacingAndGlyphs">30</text><line x1="130.83" y1="450.4" x2="130.83" y2="452.2" stroke="#b4b4b4" stroke-width="1"/><text x="124.00" y="461.80" class="tk" textLength="13.66" lengthAdjust="spacingAndGlyphs">35</text><line x1="172.04" y1="450.4" x2="172.04" y2="452.2" stroke="#b4b4b4" stroke-width="1"/><text x="165.22" y="461.80" class="tk" textLength="13.66" lengthAdjust="spacingAndGlyphs">40</text><line x1="213.26" y1="450.4" x2="213.26" y2="452.2" stroke="#b4b4b4" stroke-width="1"/><text x="206.43" y="461.80" class="tk" textLength="13.66" lengthAdjust="spacingAndGlyphs">45</text><line x1="254.47" y1="450.4" x2="254.47" y2="452.2" stroke="#b4b4b4" stroke-width="1"/><text x="247.64" y="461.80" class="tk" textLength="13.66" lengthAdjust="spacingAndGlyphs">50</text><line x1="295.69" y1="450.4" x2="295.69" y2="452.2" stroke="#b4b4b4" stroke-width="1"/><text x="288.86" y="461.80" class="tk" textLength="13.66" lengthAdjust="spacingAndGlyphs">55</text><line x1="336.90" y1="450.4" x2="336.90" y2="452.2" stroke="#b4b4b4" stroke-width="1"/><text x="330.07" y="461.80" class="tk" textLength="13.66" lengthAdjust="spacingAndGlyphs">60</text><text x="123.10" y="476.80" class="al" textLength="100.30" lengthAdjust="spacingAndGlyphs">Temperature</text><text x="229.40" y="476.80" class="al">(</text><circle cx="240.70" cy="467.30" r="1.45" fill="none" stroke="#1a1a1a" stroke-width="0.9"/><text x="246.30" y="476.80" class="al" textLength="16.50" lengthAdjust="spacingAndGlyphs">C)</text><text transform="translate(19.90,415.55) rotate(-90)" class="al" textLength="102.2" lengthAdjust="spacingAndGlyphs">Humidity (%)</text><text x="39.6" y="259.7" class="ti">c) Phoenix July 2023</text><g clip-path="url(#clipc)" fill="none" stroke-width="1.75" stroke-linejoin="round"><path d="M130.83,278.50L131.20,279.00L131.57,279.51L131.94,280.01L132.31,280.51L132.68,281.01L133.05,281.50L133.42,282.00L133.79,282.49L134.16,282.98L134.53,283.47L134.90,283.96L135.27,284.45L135.64,284.94L136.01,285.42L136.38,285.90L136.76,286.38L137.13,286.86L137.50,287.34L137.87,287.82L138.24,288.29L138.61,288.77L138.98,289.24L139.35,289.71L139.72,290.18L140.09,290.65L140.46,291.11L140.83,291.58L141.20,292.04L141.57,292.51L141.94,292.97L142.31,293.43L142.68,293.88L143.05,294.34L143.42,294.79L143.79,295.25L144.16,295.70L144.53,296.15L144.90,296.60L145.27,297.05L145.64,297.50L146.02,297.94L146.39,298.38L146.76,298.83L147.13,299.27L147.50,299.71L147.87,300.15L148.24,300.58L148.61,301.02L148.98,301.45L149.35,301.89L149.72,302.32L150.09,302.75L150.46,303.18L150.83,303.61L151.20,304.03L151.57,304.46L151.94,304.88L152.31,305.30L152.68,305.72L153.05,306.14L153.42,306.56L153.79,306.98L154.16,307.40L154.53,307.81L154.91,308.22L155.28,308.64L155.65,309.05L156.02,309.46L156.39,309.87L156.76,310.27L157.13,310.68L157.50,311.08L157.87,311.49L158.24,311.89L158.61,312.29L158.98,312.69L159.35,313.09L159.72,313.48L160.09,313.88M188.69,341.08L190.62,342.69L192.55,344.28L194.48,345.85L196.41,347.39L198.33,348.90L200.26,350.40L202.19,351.87L204.12,353.31L206.05,354.74L207.98,356.14L209.90,357.52L211.83,358.88L213.76,360.22L215.69,361.54L217.62,362.84L219.54,364.12L221.47,365.38L223.40,366.61L225.33,367.84L227.26,369.04L229.19,370.22L231.11,371.39L233.04,372.54L234.97,373.67L236.90,374.78L238.83,375.88L240.75,376.96L242.68,378.02L244.61,379.07L246.54,380.10L248.47,381.12L250.40,382.12L252.32,383.10L254.25,384.07L256.18,385.03L258.11,385.97L260.04,386.90L261.97,387.82L263.89,388.72L265.82,389.60L267.75,390.48L269.68,391.34L271.61,392.19L273.53,393.02L275.46,393.85L277.39,394.66L279.32,395.46L281.25,396.25L283.18,397.02L285.10,397.79L287.03,398.54L288.96,399.28L290.89,400.01L292.82,400.73L294.74,401.44L296.67,402.14L298.60,402.83L300.53,403.51L302.46,404.18L304.39,404.84L306.31,405.49L308.24,406.13L310.17,406.76L312.10,407.38L314.03,407.99L315.95,408.60L317.88,409.19L319.81,409.78L321.74,410.36L323.67,410.93L325.60,411.49L327.52,412.04L329.45,412.59L331.38,413.13L333.31,413.66L335.24,414.18L337.17,414.69L339.09,415.20L341.02,415.70" stroke="#5e5e5e" stroke-width="1.5"/><path d="M103.53,278.50L104.02,279.50L104.52,280.50L105.02,281.50L105.52,282.50L106.02,283.49L106.52,284.49L107.03,285.49L107.54,286.49L108.05,287.49L108.56,288.49L109.08,289.49L109.60,290.49L110.12,291.49L110.64,292.48L111.17,293.48L111.69,294.48L112.23,295.48L112.76,296.48L113.30,297.48L113.84,298.48L114.38,299.48L114.92,300.48L115.47,301.47L116.02,302.47L116.58,303.47L117.14,304.47L117.70,305.47L118.26,306.47L118.83,307.47L119.40,308.47L119.97,309.46L120.55,310.46L121.13,311.46L121.72,312.46L122.30,313.46L122.89,314.46L123.49,315.46L124.09,316.46L124.69,317.46L125.30,318.45L125.91,319.45L126.52,320.45L127.14,321.45L127.76,322.45L128.38,323.45L129.01,324.45L129.64,325.45L130.28,326.44L130.92,327.44L131.57,328.44L132.22,329.44L132.87,330.44L133.53,331.44L134.19,332.44L134.86,333.44L135.53,334.44L136.21,335.44L136.89,336.43L137.57,337.43L138.26,338.43L138.96,339.43L139.66,340.43L140.36,341.43L141.07,342.43L141.78,343.43L142.50,344.43L143.23,345.42L143.95,346.42L144.69,347.42L145.43,348.42L146.17,349.42L146.92,350.42L147.67,351.42L148.43,352.42L149.19,353.42L149.96,354.41L150.74,355.41L151.52,356.41L152.30,357.41L153.10,358.41L153.89,359.41L154.70,360.41L155.50,361.41L156.32,362.40L157.14,363.40L157.96,364.40L158.79,365.40L159.69,366.40L160.24,367.40L160.73,368.40L161.20,369.40L161.68,370.40L162.14,371.39L162.60,372.39L163.05,373.39L163.49,374.39L163.92,375.39L164.35,376.39L164.77,377.39L165.19,378.39L165.59,379.39L165.99,380.38L166.39,381.38L166.78,382.38L167.16,383.38L167.53,384.38L167.90,385.38L168.26,386.38L168.62,387.38L168.97,388.38L169.31,389.38L169.65,390.37L169.98,391.37L170.31,392.37L170.63,393.37L170.95,394.37L171.26,395.37L171.56,396.37L171.86,397.37L172.15,398.37L172.44,399.37L172.72,400.36L173.00,401.36L173.27,402.36L173.54,403.36L173.80,404.36L174.06,405.36L174.32,406.36L174.56,407.36L174.81,408.36L175.05,409.35L175.28,410.35L175.51,411.35L175.74,412.35L175.96,413.35L176.18,414.35L176.39,415.35L176.60,416.35L176.81,417.35L177.01,418.34L177.21,419.34L177.41,420.34L177.60,421.34L177.78,422.34L177.97,423.34L178.15,424.34L178.33,425.34L178.50,426.34L178.67,427.33L178.84,428.33L179.00,429.33L179.16,430.33L179.32,431.33L179.48,432.33L179.63,433.33L179.78,434.33L179.93,435.33L180.08,436.32L180.22,437.32L180.36,438.32L180.50,439.32L180.63,440.32L180.77,441.32L180.90,442.32L181.03,443.32L181.16,444.32L181.28,445.31L181.41,446.31L181.53,447.31L181.65,448.31L181.77,449.31L181.89,450.31" stroke="#ecdf32"/><path d="M109.10,278.50L109.68,279.50L110.27,280.50L110.86,281.50L111.45,282.50L112.04,283.49L112.62,284.49L113.21,285.49L113.80,286.49L114.40,287.49L114.99,288.49L115.58,289.49L116.17,290.49L116.77,291.49L117.37,292.49L117.96,293.48L118.56,294.48L119.16,295.48L119.77,296.48L120.37,297.48L120.98,298.48L121.59,299.48L122.20,300.48L122.82,301.48L123.44,302.47L124.06,303.47L124.68,304.47L125.31,305.47L125.94,306.47L126.57,307.47L127.20,308.47L127.84,309.47L128.49,310.46L129.13,311.46L129.78,312.46L130.44,313.46L131.10,314.46L131.76,315.46L132.43,316.46L133.10,317.46L133.78,318.46L134.46,319.45L135.15,320.45L135.84,321.45L136.54,322.45L137.24,323.45L137.95,324.45L138.66,325.45L139.38,326.45L140.10,327.45L140.83,328.44L141.57,329.44L142.31,330.44L143.06,331.44L143.81,332.44L144.58,333.44L145.34,334.44L146.12,335.44L146.90,336.44L147.69,337.44L148.49,338.43L149.29,339.43L150.10,340.43L150.92,341.43L151.74,342.43L152.58,343.43L153.42,344.43L154.27,345.43L155.13,346.43L155.99,347.42L156.87,348.42L157.75,349.42L158.64,350.42L159.54,351.42L160.45,352.42L161.37,353.42L162.29,354.42L163.23,355.42L164.18,356.41L165.13,357.41L166.10,358.41L167.07,359.41L168.06,360.41L169.05,361.41L170.05,362.41L171.07,363.41L172.10,364.40L173.13,365.40L174.18,366.40L175.23,367.40L176.30,368.40L177.38,369.40L178.47,370.40L179.56,371.40L180.67,372.40L181.78,373.39L182.90,374.39L184.02,375.39L185.15,376.39L186.29,377.39L187.42,378.39L188.56,379.39L189.70,380.39L190.84,381.39L191.99,382.38L193.13,383.38L194.27,384.38L195.41,385.38L196.54,386.38L197.67,387.38L198.80,388.38L199.92,389.38L201.04,390.38L202.15,391.38L203.25,392.37L204.34,393.37L205.43,394.37L206.50,395.37L207.57,396.37L208.62,397.37L209.66,398.37L210.69,399.37L211.70,400.37L212.70,401.36L213.68,402.36L214.65,403.36L215.61,404.36L216.54,405.36L217.47,406.36L218.38,407.36L219.27,408.36L220.15,409.36L221.01,410.35L221.86,411.35L222.69,412.35L223.51,413.35L224.31,414.35L225.10,415.35L225.87,416.35L226.62,417.35L227.37,418.35L228.09,419.34L228.80,420.34L229.50,421.34L230.18,422.34L230.85,423.34L231.50,424.34L232.13,425.34L232.75,426.34L233.36,427.33L233.95,428.33L234.53,429.33L235.09,430.33L235.63,431.33L236.16,432.33L236.68,433.33L237.18,434.33L237.66,435.33L238.13,436.32L238.59,437.32L239.03,438.32L239.45,439.32L239.86,440.32L240.26,441.32L240.63,442.32L241.00,443.32L241.35,444.32L241.68,445.32L242.00,446.31L242.31,447.31L242.60,448.31L242.87,449.31L243.13,450.31" stroke="#eda02e"/><path d="M121.26,278.50L121.77,279.50L122.28,280.50L122.80,281.50L123.32,282.50L123.85,283.49L124.39,284.49L124.92,285.49L125.46,286.49L126.01,287.49L126.56,288.49L127.11,289.49L127.67,290.49L128.24,291.49L128.80,292.49L129.38,293.48L129.95,294.48L130.53,295.48L131.12,296.48L131.71,297.48L132.30,298.48L132.90,299.48L133.50,300.48L134.11,301.48L134.72,302.47L135.33,303.47L135.95,304.47L136.57,305.47L137.20,306.47L137.83,307.47L138.47,308.47L139.10,309.47L139.75,310.46L140.40,311.46L141.05,312.46L141.70,313.46L142.36,314.46L143.03,315.46L143.70,316.46L144.37,317.46L145.04,318.46L145.72,319.45L146.41,320.45L147.10,321.45L147.79,322.45L148.48,323.45L149.18,324.45L149.89,325.45L150.59,326.45L151.31,327.45L152.02,328.44L152.74,329.44L153.47,330.44L154.19,331.44L154.92,332.44L155.66,333.44L156.40,334.44L157.15,335.44L157.90,336.44L158.65,337.44L159.41,338.43L160.18,339.43L160.95,340.43L161.72,341.43L162.51,342.43L163.29,343.43L164.09,344.43L164.89,345.43L165.69,346.43L166.50,347.42L167.32,348.42L168.15,349.42L168.98,350.42L169.82,351.42L170.67,352.42L171.52,353.42L172.38,354.42L173.25,355.42L174.12,356.41L175.01,357.41L175.90,358.41L176.80,359.41L177.70,360.41L178.62,361.41L179.54,362.41L180.48,363.41L181.42,364.40L182.38,365.40L183.34,366.40L184.32,367.40L185.31,368.40L186.31,369.40L187.32,370.40L188.35,371.40L189.39,372.40L190.44,373.39L191.51,374.39L192.59,375.39L193.69,376.39L194.81,377.39L195.94,378.39L197.07,379.39L198.20,380.39L199.32,381.39L200.44,382.38L201.53,383.38L202.61,384.38L203.65,385.38L204.67,386.38L205.64,387.38L206.57,388.38L207.45,389.38L208.27,390.38L209.04,391.38L209.76,392.37L210.43,393.37L211.05,394.37L211.64,395.37L212.20,396.37L212.72,397.37L213.21,398.37L213.68,399.37L214.13,400.37L214.56,401.36L214.98,402.36L215.39,403.36L215.80,404.36L216.20,405.36L216.61,406.36L217.01,407.36L217.42,408.36L217.82,409.36L218.23,410.35L218.63,411.35L219.03,412.35L219.43,413.35L219.82,414.35L220.21,415.35L220.60,416.35L220.98,417.35L221.35,418.35L221.72,419.34L222.08,420.34L222.43,421.34L222.78,422.34L223.11,423.34L223.44,424.34L223.76,425.34L224.07,426.34L224.38,427.33L224.68,428.33L224.96,429.33L225.25,430.33L225.52,431.33L225.78,432.33L226.04,433.33L226.29,434.33L226.53,435.33L226.76,436.32L226.99,437.32L227.21,438.32L227.42,439.32L227.62,440.32L227.81,441.32L228.00,442.32L228.17,443.32L228.34,444.32L228.50,445.32L228.66,446.31L228.80,447.31L228.94,448.31L229.07,449.31L229.19,450.31" stroke="#da1f42"/><path d="M124.28,278.50L124.93,279.50L125.57,280.49L126.22,281.48L126.86,282.48L127.50,283.47L128.15,284.47L128.79,285.46L129.43,286.46L130.07,287.45L130.71,288.45L131.35,289.44L131.99,290.44L132.63,291.43L133.27,292.43L133.91,293.42L134.56,294.42L135.20,295.41L135.85,296.40L136.49,297.40L137.14,298.39L137.79,299.39L138.44,300.38L139.09,301.38L139.75,302.37L140.40,303.37L141.06,304.36L141.73,305.36L142.39,306.35L143.06,307.35L143.73,308.34L144.40,309.33L145.08,310.33L145.76,311.32L146.44,312.32L147.13,313.31L147.82,314.31L148.52,315.30L149.22,316.30L149.93,317.29L150.64,318.29L151.35,319.28L152.07,320.28L152.79,321.27L153.52,322.26L154.26,323.26L155.00,324.25L155.74,325.25L156.50,326.24L157.26,327.24L158.02,328.23L158.79,329.23L159.57,330.22L160.35,331.22L161.14,332.21L161.94,333.21L162.75,334.20L163.56,335.19L164.38,336.19L165.21,337.19L166.04,338.18L166.88,339.17L167.74,340.17L168.60,341.16L169.46,342.16L170.34,343.15L171.23,344.15L172.12,345.14L173.02,346.14L173.94,347.13L174.86,348.13L175.79,349.12L176.73,350.12L177.68,351.11L178.64,352.11L179.62,353.10L180.60,354.09L181.59,355.09L182.59,356.08L183.61,357.08L184.63,358.07L185.67,359.07L186.71,360.06L187.77,361.06L188.84,362.05L189.93,363.05L191.02,364.04L192.13,365.04L193.25,366.03L194.38,367.02L195.52,368.02L196.68,369.01L197.85,370.01L199.03,371.00L200.22,372.00L201.43,372.99L202.65,373.99L203.89,374.98L205.14,375.98L206.40,376.97L207.68,377.97L208.98,378.96L210.28,379.95L211.60,380.95L212.94,381.94L214.29,382.94L215.66,383.93L217.04,384.93L218.44,385.92L219.85,386.92L221.28,387.91L222.73,388.91L224.19,389.90L225.66,390.90L227.16,391.89L228.67,392.88L230.19,393.88L231.74,394.88L233.30,395.87L234.88,396.86L236.47,397.86L238.08,398.85L239.72,399.85L241.36,400.84L243.03,401.84L244.71,402.83L246.42,403.83L248.14,404.82L249.88,405.82L251.64,406.81L253.42,407.81L255.17,408.80L256.53,409.79L257.90,410.78L259.24,411.76L260.54,412.75L261.82,413.74L263.07,414.73L264.29,415.72L265.48,416.71L266.64,417.69L267.77,418.68L268.88,419.67L269.96,420.66L271.02,421.65L272.05,422.64L273.06,423.62L274.04,424.61L275.00,425.60L275.94,426.59L276.86,427.58L277.76,428.57L278.63,429.56L279.49,430.54L280.32,431.53L281.14,432.52L281.94,433.51L282.72,434.50L283.49,435.49L284.24,436.47L284.97,437.46L285.69,438.45L286.39,439.44L287.09,440.43L287.76,441.42L288.43,442.40L289.08,443.39L289.72,444.38L290.35,445.37L290.97,446.36L291.59,447.35L292.19,448.33L292.78,449.32L293.37,450.31" stroke="#ff1fff"/></g><text transform="translate(174.35,328.24) rotate(43.45)" class="tw" text-anchor="middle" dy="2.4">T_w 35°C</text><circle cx="186.6" cy="415.8" r="2.35" fill="#000"/><circle cx="190.9" cy="415.3" r="2.35" fill="#000"/><circle cx="193.6" cy="417.5" r="2.35" fill="#000"/><circle cx="201.5" cy="421.5" r="2.35" fill="#000"/><circle cx="204.1" cy="420.1" r="2.35" fill="#000"/><circle cx="207.2" cy="418.8" r="2.35" fill="#000"/><circle cx="208.5" cy="425.4" r="2.35" fill="#000"/><circle cx="212" cy="425.4" r="2.35" fill="#000"/><circle cx="213.3" cy="428" r="2.35" fill="#000"/><circle cx="219" cy="425.8" r="2.35" fill="#000"/><circle cx="221.2" cy="428" r="2.35" fill="#000"/><circle cx="223.8" cy="430.2" r="2.35" fill="#000"/><circle cx="227.3" cy="432.8" r="2.35" fill="#000"/><circle cx="190.5" cy="435.5" r="2.35" fill="#000"/><circle cx="198.4" cy="431.5" r="2.35" fill="#000"/><circle cx="196.6" cy="435.9" r="2.35" fill="#000"/><circle cx="198.8" cy="437.7" r="2.35" fill="#000"/><circle cx="203.6" cy="436.8" r="2.35" fill="#000"/><circle cx="206.7" cy="435" r="2.35" fill="#000"/><circle cx="209.8" cy="435.5" r="2.35" fill="#000"/><use href="#star" x="151.9" y="401.9" fill="#0000ff"/><use href="#star" x="156.3" y="401.9" fill="#0000ff"/><use href="#star" x="158.5" y="404.1" fill="#0000ff"/><use href="#star" x="170.5" y="405.9" fill="#0000ff"/><use href="#star" x="166.2" y="408.9" fill="#0000ff"/><use href="#star" x="168.4" y="410" fill="#0000ff"/><use href="#star" x="164.7" y="409.6" fill="#0000ff"/><use href="#star" x="172" y="415.8" fill="#0000ff"/><use href="#star" x="174.9" y="415.1" fill="#0000ff"/><use href="#star" x="176.8" y="416.2" fill="#0000ff"/><use href="#star" x="176.4" y="418.7" fill="#0000ff"/><use href="#star" x="181.1" y="415.8" fill="#0000ff"/><use href="#star" x="184.8" y="418.4" fill="#0000ff"/><use href="#star" x="182.2" y="420.5" fill="#0000ff"/><use href="#star" x="185.1" y="423.1" fill="#0000ff"/><use href="#star" x="188.8" y="425.7" fill="#0000ff"/><use href="#star" x="162.9" y="424.2" fill="#0000ff"/><use href="#star" x="163.2" y="426.4" fill="#0000ff"/><use href="#star" x="156" y="429.3" fill="#0000ff"/><use href="#star" x="160.7" y="430" fill="#0000ff"/><use href="#star" x="162.9" y="432.2" fill="#0000ff"/><use href="#star" x="166.9" y="431.5" fill="#0000ff"/><use href="#star" x="170.2" y="429.3" fill="#0000ff"/><use href="#star" x="173.1" y="428.9" fill="#0000ff"/><rect x="388.3" y="278.5" width="287.90" height="171.70" fill="none" stroke="#b4b4b4" stroke-width="1"/><line x1="386.5" y1="417.06" x2="388.3" y2="417.06" stroke="#b4b4b4" stroke-width="1"/><text x="372.24" y="421.36" class="tk" textLength="13.66" lengthAdjust="spacingAndGlyphs">20</text><line x1="386.5" y1="382.42" x2="388.3" y2="382.42" stroke="#b4b4b4" stroke-width="1"/><text x="372.24" y="386.72" class="tk" textLength="13.66" lengthAdjust="spacingAndGlyphs">40</text><line x1="386.5" y1="347.78" x2="388.3" y2="347.78" stroke="#b4b4b4" stroke-width="1"/><text x="372.24" y="352.08" class="tk" textLength="13.66" lengthAdjust="spacingAndGlyphs">60</text><line x1="386.5" y1="313.14" x2="388.3" y2="313.14" stroke="#b4b4b4" stroke-width="1"/><text x="372.24" y="317.44" class="tk" textLength="13.66" lengthAdjust="spacingAndGlyphs">80</text><line x1="386.5" y1="278.50" x2="388.3" y2="278.50" stroke="#b4b4b4" stroke-width="1"/><text x="364.59" y="282.80" class="tk" textLength="21.31" lengthAdjust="spacingAndGlyphs">100</text><line x1="429.43" y1="450.2" x2="429.43" y2="452.0" stroke="#b4b4b4" stroke-width="1"/><text x="422.60" y="461.60" class="tk" textLength="13.66" lengthAdjust="spacingAndGlyphs">30</text><line x1="470.56" y1="450.2" x2="470.56" y2="452.0" stroke="#b4b4b4" stroke-width="1"/><text x="463.73" y="461.60" class="tk" textLength="13.66" lengthAdjust="spacingAndGlyphs">35</text><line x1="511.69" y1="450.2" x2="511.69" y2="452.0" stroke="#b4b4b4" stroke-width="1"/><text x="504.86" y="461.60" class="tk" textLength="13.66" lengthAdjust="spacingAndGlyphs">40</text><line x1="552.81" y1="450.2" x2="552.81" y2="452.0" stroke="#b4b4b4" stroke-width="1"/><text x="545.99" y="461.60" class="tk" textLength="13.66" lengthAdjust="spacingAndGlyphs">45</text><line x1="593.94" y1="450.2" x2="593.94" y2="452.0" stroke="#b4b4b4" stroke-width="1"/><text x="587.12" y="461.60" class="tk" textLength="13.66" lengthAdjust="spacingAndGlyphs">50</text><line x1="635.07" y1="450.2" x2="635.07" y2="452.0" stroke="#b4b4b4" stroke-width="1"/><text x="628.24" y="461.60" class="tk" textLength="13.66" lengthAdjust="spacingAndGlyphs">55</text><line x1="676.20" y1="450.2" x2="676.20" y2="452.0" stroke="#b4b4b4" stroke-width="1"/><text x="669.37" y="461.60" class="tk" textLength="13.66" lengthAdjust="spacingAndGlyphs">60</text><text x="463.00" y="476.60" class="al" textLength="100.30" lengthAdjust="spacingAndGlyphs">Temperature</text><text x="569.30" y="476.60" class="al">(</text><circle cx="580.60" cy="467.10" r="1.45" fill="none" stroke="#1a1a1a" stroke-width="0.9"/><text x="586.20" y="476.60" class="al" textLength="16.50" lengthAdjust="spacingAndGlyphs">C)</text><text transform="translate(359.80,415.45) rotate(-90)" class="al" textLength="102.2" lengthAdjust="spacingAndGlyphs">Humidity (%)</text><text x="372.8" y="259.8" class="ti">d) Mount Isa Jan 2019</text><g clip-path="url(#clipd)" fill="none" stroke-width="1.75" stroke-linejoin="round"><path d="M470.56,278.50L470.93,279.00L471.30,279.51L471.67,280.01L472.04,280.51L472.41,281.01L472.77,281.50L473.14,282.00L473.51,282.49L473.88,282.98L474.25,283.47L474.62,283.96L474.99,284.45L475.36,284.94L475.73,285.42L476.10,285.90L476.47,286.38L476.84,286.86L477.21,287.34L477.58,287.82L477.95,288.29L478.32,288.77L478.69,289.24L479.06,289.71L479.43,290.18L479.80,290.65L480.17,291.11L480.54,291.58L480.91,292.04L481.28,292.51L481.65,292.97L482.02,293.43L482.39,293.88L482.76,294.34L483.12,294.79L483.49,295.25L483.86,295.70L484.23,296.15L484.60,296.60L484.97,297.05L485.34,297.50L485.71,297.94L486.08,298.38L486.45,298.83L486.82,299.27L487.19,299.71L487.56,300.15L487.93,300.58L488.30,301.02L488.67,301.45L489.04,301.89L489.41,302.32L489.78,302.75L490.15,303.18L490.52,303.61L490.89,304.03L491.26,304.46L491.63,304.88L492.00,305.30L492.37,305.72L492.74,306.14L493.10,306.56L493.47,306.98L493.84,307.40L494.21,307.81L494.58,308.22L494.95,308.64L495.32,309.05L495.69,309.46L496.06,309.87L496.43,310.27L496.80,310.68L497.17,311.08L497.54,311.49L497.91,311.89L498.28,312.29L498.65,312.69L499.02,313.09L499.39,313.48L499.76,313.88M528.30,341.08L530.23,342.69L532.15,344.28L534.07,345.85L536.00,347.39L537.92,348.90L539.85,350.40L541.77,351.87L543.70,353.31L545.62,354.74L547.54,356.14L549.47,357.52L551.39,358.88L553.32,360.22L555.24,361.54L557.16,362.84L559.09,364.12L561.01,365.38L562.94,366.61L564.86,367.84L566.79,369.04L568.71,370.22L570.63,371.39L572.56,372.54L574.48,373.67L576.41,374.78L578.33,375.88L580.25,376.96L582.18,378.02L584.10,379.07L586.03,380.10L587.95,381.12L589.88,382.12L591.80,383.10L593.72,384.07L595.65,385.03L597.57,385.97L599.50,386.90L601.42,387.82L603.35,388.72L605.27,389.60L607.19,390.48L609.12,391.34L611.04,392.19L612.97,393.02L614.89,393.85L616.81,394.66L618.74,395.46L620.66,396.25L622.59,397.02L624.51,397.79L626.44,398.54L628.36,399.28L630.28,400.01L632.21,400.73L634.13,401.44L636.06,402.14L637.98,402.83L639.90,403.51L641.83,404.18L643.75,404.84L645.68,405.49L647.60,406.13L649.53,406.76L651.45,407.38L653.37,407.99L655.30,408.60L657.22,409.19L659.15,409.78L661.07,410.36L663.00,410.93L664.92,411.49L666.84,412.04L668.77,412.59L670.69,413.13L672.62,413.66L674.54,414.18L676.46,414.69L678.39,415.20L680.31,415.70" stroke="#5e5e5e" stroke-width="1.5"/><path d="M443.32,278.50L443.81,279.50L444.30,280.50L444.80,281.50L445.30,282.50L445.80,283.49L446.30,284.49L446.81,285.49L447.31,286.49L447.82,287.49L448.34,288.49L448.85,289.49L449.37,290.49L449.89,291.49L450.41,292.48L450.93,293.48L451.46,294.48L451.99,295.48L452.53,296.48L453.06,297.48L453.60,298.48L454.14,299.48L454.69,300.48L455.23,301.47L455.78,302.47L456.34,303.47L456.89,304.47L457.45,305.47L458.02,306.47L458.58,307.47L459.15,308.47L459.72,309.46L460.30,310.46L460.88,311.46L461.46,312.46L462.05,313.46L462.64,314.46L463.23,315.46L463.83,316.46L464.43,317.46L465.04,318.45L465.64,319.45L466.26,320.45L466.87,321.45L467.49,322.45L468.12,323.45L468.74,324.45L469.38,325.45L470.01,326.44L470.65,327.44L471.30,328.44L471.94,329.44L472.60,330.44L473.25,331.44L473.92,332.44L474.58,333.44L475.25,334.44L475.93,335.44L476.61,336.43L477.29,337.43L477.98,338.43L478.67,339.43L479.37,340.43L480.07,341.43L480.78,342.43L481.49,343.43L482.21,344.43L482.93,345.42L483.65,346.42L484.39,347.42L485.12,348.42L485.87,349.42L486.61,350.42L487.36,351.42L488.12,352.42L488.88,353.42L489.65,354.41L490.43,355.41L491.20,356.41L491.99,357.41L492.78,358.41L493.57,359.41L494.37,360.41L495.18,361.41L495.99,362.40L496.81,363.40L497.63,364.40L498.46,365.40L499.36,366.40L499.91,367.40L500.39,368.40L500.87,369.40L501.34,370.40L501.80,371.39L502.26,372.39L502.71,373.39L503.15,374.39L503.58,375.39L504.01,376.39L504.43,377.39L504.84,378.39L505.25,379.39L505.65,380.38L506.04,381.38L506.43,382.38L506.81,383.38L507.18,384.38L507.55,385.38L507.91,386.38L508.27,387.38L508.62,388.38L508.96,389.38L509.30,390.37L509.63,391.37L509.96,392.37L510.28,393.37L510.59,394.37L510.90,395.37L511.20,396.37L511.50,397.37L511.80,398.37L512.08,399.37L512.37,400.36L512.64,401.36L512.91,402.36L513.18,403.36L513.44,404.36L513.70,405.36L513.95,406.36L514.20,407.36L514.45,408.36L514.68,409.35L514.92,410.35L515.15,411.35L515.38,412.35L515.60,413.35L515.81,414.35L516.03,415.35L516.24,416.35L516.44,417.35L516.64,418.34L516.84,419.34L517.04,420.34L517.23,421.34L517.41,422.34L517.60,423.34L517.78,424.34L517.96,425.34L518.13,426.34L518.30,427.33L518.47,428.33L518.63,429.33L518.79,430.33L518.95,431.33L519.11,432.33L519.26,433.33L519.41,434.33L519.56,435.33L519.70,436.32L519.85,437.32L519.99,438.32L520.12,439.32L520.26,440.32L520.39,441.32L520.52,442.32L520.65,443.32L520.78,444.32L520.91,445.31L521.03,446.31L521.15,447.31L521.27,448.31L521.39,449.31L521.51,450.31" stroke="#ecdf32"/><path d="M448.87,278.50L449.46,279.50L450.04,280.50L450.63,281.50L451.22,282.50L451.80,283.49L452.39,284.49L452.98,285.49L453.57,286.49L454.16,287.49L454.75,288.49L455.34,289.49L455.93,290.49L456.53,291.49L457.12,292.49L457.72,293.48L458.32,294.48L458.92,295.48L459.52,296.48L460.12,297.48L460.73,298.48L461.34,299.48L461.95,300.48L462.56,301.48L463.18,302.47L463.80,303.47L464.42,304.47L465.05,305.47L465.67,306.47L466.31,307.47L466.94,308.47L467.58,309.47L468.22,310.46L468.87,311.46L469.52,312.46L470.17,313.46L470.83,314.46L471.49,315.46L472.16,316.46L472.83,317.46L473.50,318.46L474.18,319.45L474.87,320.45L475.56,321.45L476.25,322.45L476.95,323.45L477.66,324.45L478.37,325.45L479.09,326.45L479.81,327.45L480.54,328.44L481.27,329.44L482.02,330.44L482.76,331.44L483.52,332.44L484.28,333.44L485.04,334.44L485.82,335.44L486.60,336.44L487.38,337.44L488.18,338.43L488.98,339.43L489.79,340.43L490.61,341.43L491.43,342.43L492.26,343.43L493.10,344.43L493.95,345.43L494.80,346.43L495.67,347.42L496.54,348.42L497.42,349.42L498.31,350.42L499.21,351.42L500.12,352.42L501.03,353.42L501.96,354.42L502.89,355.42L503.84,356.41L504.79,357.41L505.75,358.41L506.72,359.41L507.71,360.41L508.70,361.41L509.70,362.41L510.71,363.41L511.74,364.40L512.77,365.40L513.82,366.40L514.87,367.40L515.94,368.40L517.01,369.40L518.10,370.40L519.19,371.40L520.29,372.40L521.40,373.39L522.52,374.39L523.64,375.39L524.77,376.39L525.90,377.39L527.03,378.39L528.17,379.39L529.31,380.39L530.45,381.39L531.59,382.38L532.73,383.38L533.86,384.38L535.00,385.38L536.13,386.38L537.26,387.38L538.39,388.38L539.51,389.38L540.62,390.38L541.73,391.38L542.83,392.37L543.92,393.37L545.00,394.37L546.07,395.37L547.14,396.37L548.19,397.37L549.22,398.37L550.25,399.37L551.26,400.37L552.26,401.36L553.24,402.36L554.21,403.36L555.16,404.36L556.09,405.36L557.02,406.36L557.92,407.36L558.81,408.36L559.69,409.36L560.55,410.35L561.40,411.35L562.23,412.35L563.04,413.35L563.84,414.35L564.63,415.35L565.40,416.35L566.15,417.35L566.89,418.35L567.62,419.34L568.33,420.34L569.02,421.34L569.70,422.34L570.37,423.34L571.02,424.34L571.65,425.34L572.27,426.34L572.88,427.33L573.46,428.33L574.04,429.33L574.60,430.33L575.14,431.33L575.67,432.33L576.19,433.33L576.68,434.33L577.17,435.33L577.64,436.32L578.09,437.32L578.53,438.32L578.95,439.32L579.36,440.32L579.76,441.32L580.13,442.32L580.50,443.32L580.85,444.32L581.18,445.32L581.50,446.31L581.80,447.31L582.09,448.31L582.37,449.31L582.62,450.31" stroke="#eda02e"/><path d="M461.00,278.50L461.51,279.50L462.03,280.50L462.55,281.50L463.07,282.50L463.60,283.49L464.13,284.49L464.66,285.49L465.20,286.49L465.75,287.49L466.30,288.49L466.85,289.49L467.41,290.49L467.97,291.49L468.54,292.49L469.11,293.48L469.68,294.48L470.26,295.48L470.85,296.48L471.43,297.48L472.03,298.48L472.62,299.48L473.22,300.48L473.83,301.48L474.44,302.47L475.05,303.47L475.67,304.47L476.29,305.47L476.91,306.47L477.54,307.47L478.18,308.47L478.82,309.47L479.46,310.46L480.10,311.46L480.75,312.46L481.41,313.46L482.07,314.46L482.73,315.46L483.40,316.46L484.07,317.46L484.74,318.46L485.42,319.45L486.10,320.45L486.79,321.45L487.48,322.45L488.18,323.45L488.87,324.45L489.58,325.45L490.28,326.45L490.99,327.45L491.71,328.44L492.42,329.44L493.15,330.44L493.87,331.44L494.60,332.44L495.34,333.44L496.08,334.44L496.82,335.44L497.57,336.44L498.32,337.44L499.08,338.43L499.84,339.43L500.61,340.43L501.39,341.43L502.17,342.43L502.95,343.43L503.75,344.43L504.54,345.43L505.35,346.43L506.16,347.42L506.98,348.42L507.80,349.42L508.63,350.42L509.47,351.42L510.31,352.42L511.16,353.42L512.02,354.42L512.89,355.42L513.76,356.41L514.64,357.41L515.53,358.41L516.43,359.41L517.34,360.41L518.25,361.41L519.17,362.41L520.10,363.41L521.05,364.40L522.00,365.40L522.96,366.40L523.93,367.40L524.92,368.40L525.92,369.40L526.93,370.40L527.95,371.40L528.99,372.40L530.04,373.39L531.11,374.39L532.19,375.39L533.29,376.39L534.40,377.39L535.53,378.39L536.66,379.39L537.79,380.39L538.91,381.39L540.02,382.38L541.12,383.38L542.19,384.38L543.23,385.38L544.24,386.38L545.21,387.38L546.14,388.38L547.02,389.38L547.84,390.38L548.60,391.38L549.32,392.37L549.99,393.37L550.62,394.37L551.20,395.37L551.76,396.37L552.28,397.37L552.77,398.37L553.24,399.37L553.69,400.37L554.12,401.36L554.54,402.36L554.95,403.36L555.35,404.36L555.75,405.36L556.16,406.36L556.56,407.36L556.96,408.36L557.37,409.36L557.77,410.35L558.18,411.35L558.58,412.35L558.97,413.35L559.37,414.35L559.76,415.35L560.14,416.35L560.52,417.35L560.89,418.35L561.26,419.34L561.62,420.34L561.97,421.34L562.31,422.34L562.65,423.34L562.98,424.34L563.30,425.34L563.61,426.34L563.91,427.33L564.21,428.33L564.50,429.33L564.78,430.33L565.05,431.33L565.31,432.33L565.57,433.33L565.82,434.33L566.06,435.33L566.29,436.32L566.52,437.32L566.74,438.32L566.94,439.32L567.15,440.32L567.34,441.32L567.52,442.32L567.70,443.32L567.87,444.32L568.03,445.32L568.18,446.31L568.33,447.31L568.46,448.31L568.59,449.31L568.71,450.31" stroke="#da1f42"/><path d="M464.02,278.50L464.67,279.50L465.31,280.49L465.95,281.48L466.60,282.48L467.24,283.47L467.88,284.47L468.52,285.46L469.16,286.46L469.80,287.45L470.44,288.45L471.08,289.44L471.72,290.44L472.36,291.43L473.00,292.43L473.64,293.42L474.28,294.42L474.92,295.41L475.56,296.40L476.21,297.40L476.86,298.39L477.50,299.39L478.15,300.38L478.80,301.38L479.46,302.37L480.11,303.37L480.77,304.36L481.43,305.36L482.10,306.35L482.76,307.35L483.43,308.34L484.10,309.33L484.78,310.33L485.46,311.32L486.14,312.32L486.83,313.31L487.52,314.31L488.21,315.30L488.91,316.30L489.61,317.29L490.32,318.29L491.04,319.28L491.75,320.28L492.48,321.27L493.20,322.26L493.94,323.26L494.68,324.25L495.42,325.25L496.17,326.24L496.93,327.24L497.69,328.23L498.46,329.23L499.24,330.22L500.02,331.22L500.81,332.21L501.60,333.21L502.41,334.20L503.22,335.19L504.04,336.19L504.86,337.19L505.70,338.18L506.54,339.17L507.39,340.17L508.25,341.16L509.11,342.16L509.99,343.15L510.87,344.15L511.76,345.14L512.66,346.14L513.58,347.13L514.50,348.13L515.43,349.12L516.36,350.12L517.31,351.11L518.27,352.11L519.24,353.10L520.22,354.09L521.21,355.09L522.21,356.08L523.23,357.08L524.25,358.07L525.28,359.07L526.33,360.06L527.38,361.06L528.45,362.05L529.53,363.05L530.62,364.04L531.73,365.04L532.84,366.03L533.97,367.02L535.11,368.02L536.27,369.01L537.43,370.01L538.61,371.00L539.81,372.00L541.01,372.99L542.23,373.99L543.47,374.98L544.71,375.98L545.98,376.97L547.25,377.97L548.54,378.96L549.85,379.95L551.17,380.95L552.50,381.94L553.85,382.94L555.21,383.93L556.59,384.93L557.99,385.92L559.40,386.92L560.82,387.91L562.26,388.91L563.72,389.90L565.19,390.90L566.69,391.89L568.19,392.88L569.72,393.88L571.26,394.88L572.81,395.87L574.39,396.86L575.98,397.86L577.59,398.85L579.22,399.85L580.86,400.84L582.53,401.84L584.21,402.83L585.91,403.83L587.62,404.82L589.36,405.82L591.12,406.81L592.89,407.81L594.64,408.80L596.00,409.79L597.36,410.78L598.70,411.76L600.00,412.75L601.28,413.74L602.52,414.73L603.74,415.72L604.92,416.71L606.08,417.69L607.22,418.68L608.32,419.67L609.40,420.66L610.46,421.65L611.49,422.64L612.49,423.62L613.47,424.61L614.43,425.60L615.37,426.59L616.28,427.58L617.18,428.57L618.05,429.56L618.91,430.54L619.74,431.53L620.56,432.52L621.36,433.51L622.14,434.50L622.90,435.49L623.65,436.47L624.38,437.46L625.10,438.45L625.80,439.44L626.49,440.43L627.16,441.42L627.83,442.40L628.48,443.39L629.12,444.38L629.75,445.37L630.37,446.36L630.98,447.35L631.58,448.33L632.17,449.32L632.76,450.31" stroke="#ff1fff"/></g><text transform="translate(513.99,328.24) rotate(43.51)" class="tw" text-anchor="middle" dy="2.4">T_w 35°C</text><circle cx="433.4" cy="352.3" r="2.35" fill="#000"/><circle cx="453.5" cy="361.6" r="2.35" fill="#000"/><circle cx="455.3" cy="369.4" r="2.35" fill="#000"/><circle cx="516.3" cy="417.3" r="2.35" fill="#000"/><circle cx="505.7" cy="423.3" r="2.35" fill="#000"/><circle cx="501" cy="427.9" r="2.35" fill="#000"/><circle cx="509.7" cy="433.5" r="2.35" fill="#000"/><circle cx="515.9" cy="439.9" r="2.35" fill="#000"/><circle cx="521" cy="436.3" r="2.35" fill="#000"/><circle cx="523.2" cy="424.4" r="2.35" fill="#000"/><circle cx="526.5" cy="427.3" r="2.35" fill="#000"/><circle cx="529.4" cy="430.6" r="2.35" fill="#000"/><circle cx="533.1" cy="430.6" r="2.35" fill="#000"/><circle cx="530.9" cy="432.8" r="2.35" fill="#000"/><circle cx="533.8" cy="441.2" r="2.35" fill="#000"/><circle cx="519.9" cy="429.9" r="2.35" fill="#000"/><circle cx="514.1" cy="426.2" r="2.35" fill="#000"/><circle cx="517.7" cy="428.4" r="2.35" fill="#000"/><circle cx="495.4" cy="399.6" r="2.35" fill="#000"/><use href="#star" x="428.5" y="342.1" fill="#0000ff"/><use href="#star" x="448" y="352.5" fill="#0000ff"/><use href="#star" x="449.9" y="361.2" fill="#0000ff"/><use href="#star" x="509.3" y="413.8" fill="#0000ff"/><use href="#star" x="499.1" y="420.4" fill="#0000ff"/><use href="#star" x="494.7" y="425.5" fill="#0000ff"/><use href="#star" x="503.1" y="431.7" fill="#0000ff"/><use href="#star" x="509.7" y="421.1" fill="#0000ff"/><use href="#star" x="509" y="425.9" fill="#0000ff"/><use href="#star" x="511.9" y="427.3" fill="#0000ff"/><use href="#star" x="516.3" y="422.2" fill="#0000ff"/><use href="#star" x="518.1" y="425.5" fill="#0000ff"/><use href="#star" x="514.5" y="435" fill="#0000ff"/><use href="#star" x="509.3" y="438.7" fill="#0000ff"/><use href="#star" x="523.6" y="429.9" fill="#0000ff"/><use href="#star" x="525.8" y="429.2" fill="#0000ff"/><use href="#star" x="526.9" y="440.1" fill="#0000ff"/><use href="#star" x="514.1" y="429.2" fill="#0000ff"/><use href="#star" x="520.7" y="429.2" fill="#0000ff"/><use href="#star" x="489" y="394" fill="#0000ff"/><use href="#star" x="511.2" y="426.2" fill="#0000ff"/><use href="#star" x="513.4" y="427.7" fill="#0000ff"/><use href="#star" x="515.5" y="428.4" fill="#0000ff"/><use href="#star" x="519.2" y="429.2" fill="#0000ff"/><use href="#star" x="521.4" y="429.9" fill="#0000ff"/><use href="#star" x="524.3" y="429.9" fill="#0000ff"/><rect x="42.9" y="522.3" width="288.60" height="172.00" fill="none" stroke="#b4b4b4" stroke-width="1"/><line x1="41.1" y1="660.86" x2="42.9" y2="660.86" stroke="#b4b4b4" stroke-width="1"/><text x="26.84" y="665.16" class="tk" textLength="13.66" lengthAdjust="spacingAndGlyphs">20</text><line x1="41.1" y1="626.22" x2="42.9" y2="626.22" stroke="#b4b4b4" stroke-width="1"/><text x="26.84" y="630.52" class="tk" textLength="13.66" lengthAdjust="spacingAndGlyphs">40</text><line x1="41.1" y1="591.58" x2="42.9" y2="591.58" stroke="#b4b4b4" stroke-width="1"/><text x="26.84" y="595.88" class="tk" textLength="13.66" lengthAdjust="spacingAndGlyphs">60</text><line x1="41.1" y1="556.94" x2="42.9" y2="556.94" stroke="#b4b4b4" stroke-width="1"/><text x="26.84" y="561.24" class="tk" textLength="13.66" lengthAdjust="spacingAndGlyphs">80</text><line x1="41.1" y1="522.30" x2="42.9" y2="522.30" stroke="#b4b4b4" stroke-width="1"/><text x="19.19" y="526.60" class="tk" textLength="21.31" lengthAdjust="spacingAndGlyphs">100</text><line x1="84.13" y1="694.3" x2="84.13" y2="696.0999999999999" stroke="#b4b4b4" stroke-width="1"/><text x="77.30" y="705.70" class="tk" textLength="13.66" lengthAdjust="spacingAndGlyphs">30</text><line x1="125.36" y1="694.3" x2="125.36" y2="696.0999999999999" stroke="#b4b4b4" stroke-width="1"/><text x="118.53" y="705.70" class="tk" textLength="13.66" lengthAdjust="spacingAndGlyphs">35</text><line x1="166.59" y1="694.3" x2="166.59" y2="696.0999999999999" stroke="#b4b4b4" stroke-width="1"/><text x="159.76" y="705.70" class="tk" textLength="13.66" lengthAdjust="spacingAndGlyphs">40</text><line x1="207.81" y1="694.3" x2="207.81" y2="696.0999999999999" stroke="#b4b4b4" stroke-width="1"/><text x="200.99" y="705.70" class="tk" textLength="13.66" lengthAdjust="spacingAndGlyphs">45</text><line x1="249.04" y1="694.3" x2="249.04" y2="696.0999999999999" stroke="#b4b4b4" stroke-width="1"/><text x="242.22" y="705.70" class="tk" textLength="13.66" lengthAdjust="spacingAndGlyphs">50</text><line x1="290.27" y1="694.3" x2="290.27" y2="696.0999999999999" stroke="#b4b4b4" stroke-width="1"/><text x="283.44" y="705.70" class="tk" textLength="13.66" lengthAdjust="spacingAndGlyphs">55</text><line x1="331.50" y1="694.3" x2="331.50" y2="696.0999999999999" stroke="#b4b4b4" stroke-width="1"/><text x="324.67" y="705.70" class="tk" textLength="13.66" lengthAdjust="spacingAndGlyphs">60</text><text x="117.60" y="720.70" class="al" textLength="100.30" lengthAdjust="spacingAndGlyphs">Temperature</text><text x="223.90" y="720.70" class="al">(</text><circle cx="235.20" cy="711.20" r="1.45" fill="none" stroke="#1a1a1a" stroke-width="0.9"/><text x="240.80" y="720.70" class="al" textLength="16.50" lengthAdjust="spacingAndGlyphs">C)</text><text transform="translate(14.40,659.40) rotate(-90)" class="al" textLength="102.2" lengthAdjust="spacingAndGlyphs">Humidity (%)</text><text x="60.8" y="503.0" class="ti">e) Larkana Jun 2015</text><g clip-path="url(#clipe)" fill="none" stroke-width="1.75" stroke-linejoin="round"><path d="M125.36,522.30L125.73,522.80L126.10,523.31L126.47,523.81L126.84,524.31L127.21,524.81L127.58,525.30L127.95,525.80L128.32,526.29L128.69,526.78L129.06,527.27L129.43,527.76L129.80,528.25L130.17,528.74L130.54,529.22L130.92,529.70L131.29,530.18L131.66,530.66L132.03,531.14L132.40,531.62L132.77,532.09L133.14,532.57L133.51,533.04L133.88,533.51L134.25,533.98L134.62,534.45L134.99,534.91L135.36,535.38L135.73,535.84L136.10,536.31L136.47,536.77L136.84,537.23L137.21,537.68L137.58,538.14L137.96,538.59L138.33,539.05L138.70,539.50L139.07,539.95L139.44,540.40L139.81,540.85L140.18,541.30L140.55,541.74L140.92,542.18L141.29,542.63L141.66,543.07L142.03,543.51L142.40,543.95L142.77,544.38L143.14,544.82L143.51,545.25L143.88,545.69L144.25,546.12L144.62,546.55L145.00,546.98L145.37,547.41L145.74,547.83L146.11,548.26L146.48,548.68L146.85,549.10L147.22,549.52L147.59,549.94L147.96,550.36L148.33,550.78L148.70,551.20L149.07,551.61L149.44,552.02L149.81,552.44L150.18,552.85L150.55,553.26L150.92,553.67L151.29,554.07L151.67,554.48L152.04,554.88L152.41,555.29L152.78,555.69L153.15,556.09L153.52,556.49L153.89,556.89L154.26,557.28L154.63,557.68M183.24,584.88L185.17,586.49L187.10,588.08L189.03,589.65L190.96,591.19L192.89,592.70L194.82,594.20L196.74,595.67L198.67,597.11L200.60,598.54L202.53,599.94L204.46,601.32L206.39,602.68L208.32,604.02L210.25,605.34L212.18,606.64L214.10,607.92L216.03,609.18L217.96,610.41L219.89,611.64L221.82,612.84L223.75,614.02L225.68,615.19L227.61,616.34L229.53,617.47L231.46,618.58L233.39,619.68L235.32,620.76L237.25,621.82L239.18,622.87L241.11,623.90L243.04,624.92L244.97,625.92L246.89,626.90L248.82,627.87L250.75,628.83L252.68,629.77L254.61,630.70L256.54,631.62L258.47,632.52L260.40,633.40L262.33,634.28L264.25,635.14L266.18,635.99L268.11,636.82L270.04,637.65L271.97,638.46L273.90,639.26L275.83,640.05L277.76,640.82L279.69,641.59L281.61,642.34L283.54,643.08L285.47,643.81L287.40,644.53L289.33,645.24L291.26,645.94L293.19,646.63L295.12,647.31L297.05,647.98L298.97,648.64L300.90,649.29L302.83,649.93L304.76,650.56L306.69,651.18L308.62,651.79L310.55,652.40L312.48,652.99L314.41,653.58L316.33,654.16L318.26,654.73L320.19,655.29L322.12,655.84L324.05,656.39L325.98,656.93L327.91,657.46L329.84,657.98L331.77,658.49L333.69,659.00L335.62,659.50" stroke="#5e5e5e" stroke-width="1.5"/><path d="M98.05,522.30L98.54,523.30L99.04,524.30L99.54,525.30L100.04,526.29L100.54,527.29L101.04,528.29L101.55,529.29L102.06,530.29L102.57,531.29L103.08,532.29L103.60,533.29L104.12,534.29L104.64,535.28L105.16,536.28L105.69,537.28L106.22,538.28L106.75,539.28L107.28,540.28L107.82,541.28L108.36,542.28L108.90,543.28L109.45,544.27L110.00,545.27L110.55,546.27L111.10,547.27L111.66,548.27L112.22,549.27L112.79,550.27L113.35,551.27L113.92,552.27L114.50,553.26L115.08,554.26L115.66,555.26L116.24,556.26L116.83,557.26L117.42,558.26L118.02,559.26L118.61,560.26L119.22,561.26L119.82,562.25L120.43,563.25L121.05,564.25L121.66,565.25L122.28,566.25L122.91,567.25L123.54,568.25L124.17,569.25L124.81,570.25L125.45,571.24L126.10,572.24L126.75,573.24L127.40,574.24L128.06,575.24L128.72,576.24L129.39,577.24L130.06,578.24L130.74,579.24L131.42,580.23L132.11,581.23L132.80,582.23L133.49,583.23L134.19,584.23L134.89,585.23L135.60,586.23L136.32,587.23L137.03,588.22L137.76,589.22L138.49,590.22L139.22,591.22L139.96,592.22L140.70,593.22L141.45,594.22L142.21,595.22L142.96,596.22L143.73,597.21L144.50,598.21L145.27,599.21L146.05,600.21L146.84,601.21L147.63,602.21L148.43,603.21L149.23,604.21L150.04,605.21L150.85,606.20L151.67,607.20L152.50,608.20L153.33,609.20L154.23,610.20L154.78,611.20L155.27,612.20L155.74,613.20L156.22,614.20L156.68,615.19L157.14,616.19L157.58,617.19L158.03,618.19L158.46,619.19L158.89,620.19L159.31,621.19L159.73,622.19L160.13,623.19L160.53,624.18L160.93,625.18L161.32,626.18L161.70,627.18L162.07,628.18L162.44,629.18L162.80,630.18L163.16,631.18L163.51,632.18L163.86,633.17L164.19,634.17L164.53,635.17L164.85,636.17L165.17,637.17L165.49,638.17L165.80,639.17L166.10,640.17L166.40,641.17L166.70,642.17L166.98,643.16L167.27,644.16L167.54,645.16L167.82,646.16L168.09,647.16L168.35,648.16L168.61,649.16L168.86,650.16L169.11,651.16L169.35,652.15L169.59,653.15L169.83,654.15L170.06,655.15L170.28,656.15L170.51,657.15L170.72,658.15L170.94,659.15L171.15,660.15L171.35,661.14L171.56,662.14L171.76,663.14L171.95,664.14L172.14,665.14L172.33,666.14L172.51,667.14L172.69,668.14L172.87,669.14L173.04,670.14L173.22,671.13L173.38,672.13L173.55,673.13L173.71,674.13L173.87,675.13L174.02,676.13L174.18,677.13L174.33,678.13L174.48,679.13L174.62,680.12L174.76,681.12L174.91,682.12L175.04,683.12L175.18,684.12L175.31,685.12L175.45,686.12L175.58,687.12L175.70,688.12L175.83,689.12L175.95,690.11L176.08,691.11L176.20,692.11L176.32,693.11L176.44,694.11" stroke="#ecdf32"/><path d="M103.62,522.30L104.21,523.30L104.79,524.30L105.38,525.30L105.97,526.30L106.56,527.29L107.15,528.29L107.74,529.29L108.33,530.29L108.92,531.29L109.51,532.29L110.10,533.29L110.70,534.29L111.29,535.29L111.89,536.28L112.49,537.28L113.09,538.28L113.69,539.28L114.29,540.28L114.90,541.28L115.51,542.28L116.12,543.28L116.73,544.28L117.34,545.27L117.96,546.27L118.58,547.27L119.21,548.27L119.83,549.27L120.46,550.27L121.10,551.27L121.73,552.27L122.37,553.27L123.01,554.26L123.66,555.26L124.31,556.26L124.97,557.26L125.63,558.26L126.29,559.26L126.96,560.26L127.63,561.26L128.31,562.26L128.99,563.25L129.68,564.25L130.37,565.25L131.07,566.25L131.77,567.25L132.48,568.25L133.19,569.25L133.91,570.25L134.63,571.25L135.36,572.24L136.10,573.24L136.84,574.24L137.59,575.24L138.35,576.24L139.11,577.24L139.88,578.24L140.65,579.24L141.44,580.24L142.22,581.23L143.02,582.23L143.82,583.23L144.64,584.23L145.45,585.23L146.28,586.23L147.11,587.23L147.96,588.23L148.81,589.23L149.66,590.22L150.53,591.22L151.40,592.22L152.29,593.22L153.18,594.22L154.08,595.22L154.99,596.22L155.91,597.22L156.83,598.22L157.77,599.21L158.72,600.21L159.67,601.21L160.64,602.21L161.61,603.21L162.60,604.21L163.59,605.21L164.60,606.21L165.61,607.21L166.64,608.20L167.67,609.20L168.72,610.20L169.78,611.20L170.85,612.20L171.92,613.20L173.01,614.20L174.11,615.20L175.22,616.20L176.33,617.19L177.45,618.19L178.57,619.19L179.70,620.19L180.83,621.19L181.97,622.19L183.11,623.19L184.25,624.19L185.39,625.19L186.54,626.18L187.68,627.18L188.82,628.18L189.96,629.18L191.09,630.18L192.22,631.18L193.35,632.18L194.47,633.18L195.59,634.18L196.70,635.17L197.80,636.17L198.90,637.17L199.98,638.17L201.06,639.17L202.12,640.17L203.17,641.17L204.21,642.17L205.24,643.17L206.26,644.16L207.26,645.16L208.24,646.16L209.21,647.16L210.16,648.16L211.10,649.16L212.03,650.16L212.93,651.16L213.83,652.16L214.71,653.15L215.57,654.15L216.42,655.15L217.25,656.15L218.07,657.15L218.87,658.15L219.66,659.15L220.43,660.15L221.19,661.15L221.93,662.14L222.65,663.14L223.37,664.14L224.06,665.14L224.74,666.14L225.41,667.14L226.06,668.14L226.70,669.14L227.32,670.14L227.92,671.13L228.51,672.13L229.09,673.13L229.65,674.13L230.20,675.13L230.73,676.13L231.24,677.13L231.74,678.13L232.23,679.13L232.70,680.12L233.15,681.12L233.59,682.12L234.02,683.12L234.43,684.12L234.82,685.12L235.20,686.12L235.57,687.12L235.92,688.12L236.25,689.12L236.57,690.11L236.87,691.11L237.16,692.11L237.44,693.11L237.70,694.11" stroke="#eda02e"/><path d="M115.78,522.30L116.29,523.30L116.81,524.30L117.33,525.30L117.85,526.30L118.38,527.29L118.91,528.29L119.45,529.29L119.99,530.29L120.54,531.29L121.09,532.29L121.64,533.29L122.20,534.29L122.76,535.29L123.33,536.28L123.90,537.28L124.48,538.28L125.06,539.28L125.65,540.28L126.24,541.28L126.83,542.28L127.43,543.28L128.03,544.28L128.64,545.27L129.25,546.27L129.86,547.27L130.48,548.27L131.10,549.27L131.73,550.27L132.36,551.27L133.00,552.27L133.64,553.27L134.28,554.26L134.93,555.26L135.58,556.26L136.24,557.26L136.90,558.26L137.56,559.26L138.23,560.26L138.90,561.26L139.58,562.26L140.26,563.25L140.94,564.25L141.63,565.25L142.32,566.25L143.02,567.25L143.72,568.25L144.42,569.25L145.13,570.25L145.84,571.25L146.56,572.24L147.28,573.24L148.00,574.24L148.73,575.24L149.46,576.24L150.20,577.24L150.94,578.24L151.68,579.24L152.43,580.24L153.19,581.23L153.95,582.23L154.72,583.23L155.49,584.23L156.26,585.23L157.05,586.23L157.83,587.23L158.63,588.23L159.43,589.23L160.23,590.22L161.05,591.22L161.86,592.22L162.69,593.22L163.52,594.22L164.36,595.22L165.21,596.22L166.06,597.22L166.92,598.22L167.79,599.21L168.67,600.21L169.55,601.21L170.44,602.21L171.34,603.21L172.25,604.21L173.17,605.21L174.09,606.21L175.02,607.21L175.97,608.20L176.92,609.20L177.89,610.20L178.86,611.20L179.85,612.20L180.85,613.20L181.87,614.20L182.89,615.20L183.93,616.20L184.99,617.19L186.06,618.19L187.14,619.19L188.24,620.19L189.36,621.19L190.49,622.19L191.62,623.19L192.75,624.19L193.88,625.19L194.99,626.18L196.09,627.18L197.16,628.18L198.21,629.18L199.22,630.18L200.19,631.18L201.12,632.18L202.00,633.18L202.82,634.18L203.59,635.17L204.31,636.17L204.98,637.17L205.61,638.17L206.20,639.17L206.75,640.17L207.28,641.17L207.77,642.17L208.24,643.17L208.69,644.16L209.12,645.16L209.54,646.16L209.95,647.16L210.36,648.16L210.76,649.16L211.16,650.16L211.57,651.16L211.97,652.16L212.38,653.15L212.79,654.15L213.19,655.15L213.59,656.15L213.99,657.15L214.38,658.15L214.77,659.15L215.16,660.15L215.54,661.15L215.91,662.14L216.28,663.14L216.64,664.14L216.99,665.14L217.34,666.14L217.67,667.14L218.00,668.14L218.32,669.14L218.63,670.14L218.94,671.13L219.24,672.13L219.53,673.13L219.81,674.13L220.08,675.13L220.35,676.13L220.60,677.13L220.85,678.13L221.09,679.13L221.33,680.12L221.55,681.12L221.77,682.12L221.98,683.12L222.18,684.12L222.37,685.12L222.56,686.12L222.74,687.12L222.91,688.12L223.07,689.12L223.22,690.11L223.37,691.11L223.50,692.11L223.63,693.11L223.75,694.11" stroke="#da1f42"/><path d="M118.80,522.30L119.45,523.29L120.10,524.29L120.74,525.28L121.39,526.28L122.03,527.27L122.67,528.27L123.31,529.26L123.96,530.26L124.60,531.25L125.24,532.25L125.88,533.24L126.52,534.24L127.16,535.23L127.80,536.23L128.44,537.22L129.09,538.22L129.73,539.21L130.38,540.20L131.02,541.20L131.67,542.19L132.32,543.19L132.97,544.18L133.62,545.18L134.28,546.17L134.94,547.17L135.60,548.16L136.26,549.16L136.92,550.15L137.59,551.14L138.26,552.14L138.94,553.13L139.61,554.13L140.29,555.12L140.98,556.12L141.67,557.11L142.36,558.11L143.06,559.10L143.76,560.10L144.46,561.09L145.17,562.09L145.89,563.08L146.61,564.08L147.33,565.07L148.06,566.06L148.79,567.06L149.54,568.05L150.28,569.05L151.03,570.04L151.79,571.04L152.56,572.03L153.33,573.03L154.11,574.02L154.89,575.02L155.68,576.01L156.48,577.01L157.29,578.00L158.10,578.99L158.92,579.99L159.75,580.98L160.58,581.98L161.43,582.97L162.28,583.97L163.14,584.96L164.01,585.96L164.88,586.95L165.77,587.95L166.66,588.94L167.57,589.94L168.48,590.93L169.40,591.93L170.33,592.92L171.28,593.91L172.23,594.91L173.19,595.90L174.16,596.90L175.14,597.89L176.14,598.89L177.14,599.88L178.15,600.88L179.18,601.87L180.22,602.87L181.26,603.86L182.32,604.86L183.39,605.85L184.48,606.85L185.57,607.84L186.68,608.84L187.80,609.83L188.93,610.82L190.07,611.82L191.23,612.81L192.40,613.81L193.58,614.80L194.78,615.80L195.99,616.79L197.21,617.79L198.44,618.78L199.70,619.78L200.96,620.77L202.24,621.77L203.53,622.76L204.84,623.75L206.16,624.75L207.50,625.74L208.85,626.74L210.22,627.73L211.60,628.73L213.00,629.72L214.41,630.72L215.84,631.71L217.29,632.71L218.75,633.70L220.22,634.70L221.72,635.69L223.23,636.68L224.76,637.68L226.30,638.67L227.86,639.67L229.44,640.66L231.04,641.66L232.65,642.65L234.28,643.65L235.93,644.64L237.60,645.64L239.28,646.63L240.99,647.63L242.71,648.62L244.45,649.62L246.21,650.61L247.99,651.61L249.74,652.60L251.10,653.59L252.47,654.58L253.81,655.56L255.12,656.55L256.39,657.54L257.64,658.53L258.86,659.52L260.05,660.51L261.21,661.49L262.35,662.48L263.46,663.47L264.54,664.46L265.60,665.45L266.63,666.44L267.64,667.42L268.62,668.41L269.58,669.40L270.52,670.39L271.44,671.38L272.34,672.37L273.21,673.36L274.07,674.34L274.90,675.33L275.72,676.32L276.52,677.31L277.30,678.30L278.07,679.28L278.82,680.27L279.55,681.26L280.27,682.25L280.98,683.24L281.67,684.23L282.35,685.21L283.01,686.20L283.66,687.19L284.31,688.18L284.94,689.17L285.56,690.16L286.17,691.14L286.77,692.13L287.37,693.12L287.95,694.11" stroke="#ff1fff"/></g><text transform="translate(168.89,572.04) rotate(43.44)" class="tw" text-anchor="middle" dy="2.4">T_w 35°C</text><circle cx="147.9" cy="642.9" r="2.35" fill="#000"/><circle cx="170.5" cy="630.7" r="2.35" fill="#000"/><circle cx="171.6" cy="639.9" r="2.35" fill="#000"/><circle cx="168.9" cy="647.9" r="2.35" fill="#000"/><circle cx="167.7" cy="654.3" r="2.35" fill="#000"/><circle cx="171.2" cy="659" r="2.35" fill="#000"/><circle cx="181.3" cy="667.1" r="2.35" fill="#000"/><circle cx="181.8" cy="634.8" r="2.35" fill="#000"/><circle cx="185.9" cy="639.9" r="2.35" fill="#000"/><circle cx="189.2" cy="639.9" r="2.35" fill="#000"/><circle cx="181.3" cy="643" r="2.35" fill="#000"/><circle cx="182.2" cy="646.3" r="2.35" fill="#000"/><circle cx="195.9" cy="634.6" r="2.35" fill="#000"/><circle cx="194.1" cy="641" r="2.35" fill="#000"/><circle cx="197.1" cy="641" r="2.35" fill="#000"/><circle cx="191.3" cy="647.8" r="2.35" fill="#000"/><circle cx="193.9" cy="650.6" r="2.35" fill="#000"/><circle cx="196.2" cy="650.6" r="2.35" fill="#000"/><circle cx="193.3" cy="652.1" r="2.35" fill="#000"/><circle cx="209.6" cy="637.5" r="2.35" fill="#000"/><circle cx="205" cy="650.1" r="2.35" fill="#000"/><circle cx="202.6" cy="653.9" r="2.35" fill="#000"/><circle cx="207.9" cy="656.8" r="2.35" fill="#000"/><circle cx="214" cy="661.8" r="2.35" fill="#000"/><circle cx="221.9" cy="664" r="2.35" fill="#000"/><circle cx="205" cy="664" r="2.35" fill="#000"/><circle cx="207.1" cy="672.3" r="2.35" fill="#000"/><use href="#star" x="110.7" y="626.9" fill="#0000ff"/><use href="#star" x="130.6" y="611.3" fill="#0000ff"/><use href="#star" x="140.3" y="616.9" fill="#0000ff"/><use href="#star" x="152.8" y="616.1" fill="#0000ff"/><use href="#star" x="164.8" y="620.1" fill="#0000ff"/><use href="#star" x="131.5" y="623.1" fill="#0000ff"/><use href="#star" x="143.8" y="623" fill="#0000ff"/><use href="#star" x="146.7" y="623" fill="#0000ff"/><use href="#star" x="152.3" y="623.4" fill="#0000ff"/><use href="#star" x="154" y="624.8" fill="#0000ff"/><use href="#star" x="150.8" y="626.6" fill="#0000ff"/><use href="#star" x="139.7" y="627.4" fill="#0000ff"/><use href="#star" x="140.9" y="629.8" fill="#0000ff"/><use href="#star" x="140.3" y="632.1" fill="#0000ff"/><use href="#star" x="129.2" y="634.1" fill="#0000ff"/><use href="#star" x="149.1" y="633.6" fill="#0000ff"/><use href="#star" x="150.2" y="634.1" fill="#0000ff"/><use href="#star" x="153.5" y="636.9" fill="#0000ff"/><use href="#star" x="150.2" y="638.5" fill="#0000ff"/><use href="#star" x="160.7" y="636.6" fill="#0000ff"/><use href="#star" x="159" y="641.1" fill="#0000ff"/><use href="#star" x="163.6" y="644.4" fill="#0000ff"/><use href="#star" x="163.3" y="645.8" fill="#0000ff"/><use href="#star" x="128.3" y="641.7" fill="#0000ff"/><use href="#star" x="131.3" y="647.9" fill="#0000ff"/><use href="#star" x="168.9" y="651.4" fill="#0000ff"/><use href="#star" x="160.7" y="654.3" fill="#0000ff"/><use href="#star" x="175.7" y="654.3" fill="#0000ff"/><use href="#star" x="140.1" y="658.4" fill="#0000ff"/><use href="#star" x="162.7" y="665.1" fill="#0000ff"/><rect x="382.6" y="522.3" width="288.90" height="172.00" fill="none" stroke="#b4b4b4" stroke-width="1"/><line x1="380.8" y1="660.86" x2="382.6" y2="660.86" stroke="#b4b4b4" stroke-width="1"/><text x="366.54" y="665.16" class="tk" textLength="13.66" lengthAdjust="spacingAndGlyphs">20</text><line x1="380.8" y1="626.22" x2="382.6" y2="626.22" stroke="#b4b4b4" stroke-width="1"/><text x="366.54" y="630.52" class="tk" textLength="13.66" lengthAdjust="spacingAndGlyphs">40</text><line x1="380.8" y1="591.58" x2="382.6" y2="591.58" stroke="#b4b4b4" stroke-width="1"/><text x="366.54" y="595.88" class="tk" textLength="13.66" lengthAdjust="spacingAndGlyphs">60</text><line x1="380.8" y1="556.94" x2="382.6" y2="556.94" stroke="#b4b4b4" stroke-width="1"/><text x="366.54" y="561.24" class="tk" textLength="13.66" lengthAdjust="spacingAndGlyphs">80</text><line x1="380.8" y1="522.30" x2="382.6" y2="522.30" stroke="#b4b4b4" stroke-width="1"/><text x="358.89" y="526.60" class="tk" textLength="21.31" lengthAdjust="spacingAndGlyphs">100</text><line x1="423.87" y1="694.3" x2="423.87" y2="696.0999999999999" stroke="#b4b4b4" stroke-width="1"/><text x="417.04" y="705.70" class="tk" textLength="13.66" lengthAdjust="spacingAndGlyphs">30</text><line x1="465.14" y1="694.3" x2="465.14" y2="696.0999999999999" stroke="#b4b4b4" stroke-width="1"/><text x="458.32" y="705.70" class="tk" textLength="13.66" lengthAdjust="spacingAndGlyphs">35</text><line x1="506.41" y1="694.3" x2="506.41" y2="696.0999999999999" stroke="#b4b4b4" stroke-width="1"/><text x="499.59" y="705.70" class="tk" textLength="13.66" lengthAdjust="spacingAndGlyphs">40</text><line x1="547.69" y1="694.3" x2="547.69" y2="696.0999999999999" stroke="#b4b4b4" stroke-width="1"/><text x="540.86" y="705.70" class="tk" textLength="13.66" lengthAdjust="spacingAndGlyphs">45</text><line x1="588.96" y1="694.3" x2="588.96" y2="696.0999999999999" stroke="#b4b4b4" stroke-width="1"/><text x="582.13" y="705.70" class="tk" textLength="13.66" lengthAdjust="spacingAndGlyphs">50</text><line x1="630.23" y1="694.3" x2="630.23" y2="696.0999999999999" stroke="#b4b4b4" stroke-width="1"/><text x="623.40" y="705.70" class="tk" textLength="13.66" lengthAdjust="spacingAndGlyphs">55</text><line x1="671.50" y1="694.3" x2="671.50" y2="696.0999999999999" stroke="#b4b4b4" stroke-width="1"/><text x="664.67" y="705.70" class="tk" textLength="13.66" lengthAdjust="spacingAndGlyphs">60</text><text x="457.30" y="720.70" class="al" textLength="100.30" lengthAdjust="spacingAndGlyphs">Temperature</text><text x="563.60" y="720.70" class="al">(</text><circle cx="574.90" cy="711.20" r="1.45" fill="none" stroke="#1a1a1a" stroke-width="0.9"/><text x="580.50" y="720.70" class="al" textLength="16.50" lengthAdjust="spacingAndGlyphs">C)</text><text transform="translate(354.10,659.40) rotate(-90)" class="al" textLength="102.2" lengthAdjust="spacingAndGlyphs">Humidity (%)</text><text x="389.3" y="498.0" class="ti">f) Seville Aug 2003</text><g clip-path="url(#clipf)" fill="none" stroke-width="1.75" stroke-linejoin="round"><path d="M465.14,522.30L465.51,522.80L465.88,523.31L466.26,523.81L466.63,524.31L467.00,524.81L467.37,525.30L467.74,525.80L468.11,526.29L468.48,526.78L468.85,527.27L469.22,527.76L469.59,528.25L469.96,528.74L470.34,529.22L470.71,529.70L471.08,530.18L471.45,530.66L471.82,531.14L472.19,531.62L472.56,532.09L472.93,532.57L473.30,533.04L473.67,533.51L474.04,533.98L474.42,534.45L474.79,534.91L475.16,535.38L475.53,535.84L475.90,536.31L476.27,536.77L476.64,537.23L477.01,537.68L477.38,538.14L477.75,538.59L478.13,539.05L478.50,539.50L478.87,539.95L479.24,540.40L479.61,540.85L479.98,541.30L480.35,541.74L480.72,542.18L481.09,542.63L481.46,543.07L481.83,543.51L482.21,543.95L482.58,544.38L482.95,544.82L483.32,545.25L483.69,545.69L484.06,546.12L484.43,546.55L484.80,546.98L485.17,547.41L485.54,547.83L485.91,548.26L486.29,548.68L486.66,549.10L487.03,549.52L487.40,549.94L487.77,550.36L488.14,550.78L488.51,551.20L488.88,551.61L489.25,552.02L489.62,552.44L489.99,552.85L490.37,553.26L490.74,553.67L491.11,554.07L491.48,554.48L491.85,554.88L492.22,555.29L492.59,555.69L492.96,556.09L493.33,556.49L493.70,556.89L494.07,557.28L494.45,557.68M523.09,584.88L525.02,586.49L526.95,588.08L528.88,589.65L530.81,591.19L532.74,592.70L534.67,594.20L536.60,595.67L538.53,597.11L540.47,598.54L542.40,599.94L544.33,601.32L546.26,602.68L548.19,604.02L550.12,605.34L552.05,606.64L553.98,607.92L555.91,609.18L557.84,610.41L559.77,611.64L561.71,612.84L563.64,614.02L565.57,615.19L567.50,616.34L569.43,617.47L571.36,618.58L573.29,619.68L575.22,620.76L577.15,621.82L579.08,622.87L581.01,623.90L582.95,624.92L584.88,625.92L586.81,626.90L588.74,627.87L590.67,628.83L592.60,629.77L594.53,630.70L596.46,631.62L598.39,632.52L600.32,633.40L602.25,634.28L604.18,635.14L606.12,635.99L608.05,636.82L609.98,637.65L611.91,638.46L613.84,639.26L615.77,640.05L617.70,640.82L619.63,641.59L621.56,642.34L623.49,643.08L625.42,643.81L627.36,644.53L629.29,645.24L631.22,645.94L633.15,646.63L635.08,647.31L637.01,647.98L638.94,648.64L640.87,649.29L642.80,649.93L644.73,650.56L646.66,651.18L648.59,651.79L650.53,652.40L652.46,652.99L654.39,653.58L656.32,654.16L658.25,654.73L660.18,655.29L662.11,655.84L664.04,656.39L665.97,656.93L667.90,657.46L669.83,657.98L671.77,658.49L673.70,659.00L675.63,659.50" stroke="#5e5e5e" stroke-width="1.5"/><path d="M437.81,522.30L438.30,523.30L438.80,524.30L439.30,525.30L439.80,526.29L440.30,527.29L440.80,528.29L441.31,529.29L441.82,530.29L442.33,531.29L442.84,532.29L443.36,533.29L443.88,534.29L444.40,535.28L444.93,536.28L445.45,537.28L445.98,538.28L446.51,539.28L447.05,540.28L447.59,541.28L448.13,542.28L448.67,543.28L449.22,544.27L449.77,545.27L450.32,546.27L450.87,547.27L451.43,548.27L451.99,549.27L452.56,550.27L453.13,551.27L453.70,552.27L454.27,553.26L454.85,554.26L455.43,555.26L456.02,556.26L456.61,557.26L457.20,558.26L457.79,559.26L458.39,560.26L459.00,561.26L459.60,562.25L460.21,563.25L460.83,564.25L461.45,565.25L462.07,566.25L462.69,567.25L463.32,568.25L463.96,569.25L464.60,570.25L465.24,571.24L465.88,572.24L466.54,573.24L467.19,574.24L467.85,575.24L468.51,576.24L469.18,577.24L469.85,578.24L470.53,579.24L471.21,580.23L471.90,581.23L472.59,582.23L473.28,583.23L473.98,584.23L474.69,585.23L475.40,586.23L476.11,587.23L476.83,588.22L477.56,589.22L478.29,590.22L479.02,591.22L479.76,592.22L480.50,593.22L481.25,594.22L482.01,595.22L482.77,596.22L483.53,597.21L484.30,598.21L485.08,599.21L485.86,600.21L486.65,601.21L487.44,602.21L488.24,603.21L489.04,604.21L489.85,605.21L490.67,606.20L491.49,607.20L492.31,608.20L493.15,609.20L494.04,610.20L494.60,611.20L495.08,612.20L495.56,613.20L496.03,614.20L496.50,615.19L496.95,616.19L497.40,617.19L497.85,618.19L498.28,619.19L498.71,620.19L499.13,621.19L499.55,622.19L499.96,623.19L500.36,624.18L500.75,625.18L501.14,626.18L501.52,627.18L501.90,628.18L502.27,629.18L502.63,630.18L502.99,631.18L503.34,632.18L503.68,633.17L504.02,634.17L504.35,635.17L504.68,636.17L505.00,637.17L505.32,638.17L505.63,639.17L505.93,640.17L506.23,641.17L506.52,642.17L506.81,643.16L507.10,644.16L507.37,645.16L507.65,646.16L507.92,647.16L508.18,648.16L508.44,649.16L508.69,650.16L508.94,651.16L509.18,652.15L509.42,653.15L509.66,654.15L509.89,655.15L510.12,656.15L510.34,657.15L510.56,658.15L510.77,659.15L510.98,660.15L511.19,661.14L511.39,662.14L511.59,663.14L511.78,664.14L511.98,665.14L512.16,666.14L512.35,667.14L512.53,668.14L512.71,669.14L512.88,670.14L513.05,671.13L513.22,672.13L513.38,673.13L513.55,674.13L513.70,675.13L513.86,676.13L514.01,677.13L514.16,678.13L514.31,679.13L514.46,680.12L514.60,681.12L514.74,682.12L514.88,683.12L515.02,684.12L515.15,685.12L515.28,686.12L515.41,687.12L515.54,688.12L515.67,689.12L515.79,690.11L515.92,691.11L516.04,692.11L516.16,693.11L516.27,694.11" stroke="#ecdf32"/><path d="M443.38,522.30L443.97,523.30L444.56,524.30L445.15,525.30L445.74,526.30L446.32,527.29L446.91,528.29L447.50,529.29L448.09,530.29L448.69,531.29L449.28,532.29L449.87,533.29L450.47,534.29L451.06,535.29L451.66,536.28L452.26,537.28L452.86,538.28L453.46,539.28L454.07,540.28L454.67,541.28L455.28,542.28L455.89,543.28L456.51,544.28L457.12,545.27L457.74,546.27L458.36,547.27L458.99,548.27L459.61,549.27L460.24,550.27L460.88,551.27L461.51,552.27L462.15,553.27L462.80,554.26L463.45,555.26L464.10,556.26L464.75,557.26L465.41,558.26L466.08,559.26L466.75,560.26L467.42,561.26L468.10,562.26L468.78,563.25L469.47,564.25L470.16,565.25L470.86,566.25L471.56,567.25L472.27,568.25L472.98,569.25L473.70,570.25L474.43,571.25L475.16,572.24L475.90,573.24L476.64,574.24L477.39,575.24L478.15,576.24L478.91,577.24L479.68,578.24L480.46,579.24L481.24,580.24L482.03,581.23L482.83,582.23L483.63,583.23L484.44,584.23L485.26,585.23L486.09,586.23L486.92,587.23L487.76,588.23L488.62,589.23L489.47,590.22L490.34,591.22L491.22,592.22L492.10,593.22L492.99,594.22L493.89,595.22L494.80,596.22L495.72,597.22L496.65,598.22L497.59,599.21L498.54,600.21L499.49,601.21L500.46,602.21L501.44,603.21L502.42,604.21L503.42,605.21L504.42,606.21L505.44,607.21L506.47,608.20L507.50,609.20L508.55,610.20L509.61,611.20L510.68,612.20L511.76,613.20L512.85,614.20L513.95,615.20L515.05,616.20L516.17,617.19L517.29,618.19L518.41,619.19L519.54,620.19L520.68,621.19L521.81,622.19L522.96,623.19L524.10,624.19L525.24,625.19L526.38,626.18L527.53,627.18L528.67,628.18L529.81,629.18L530.95,630.18L532.08,631.18L533.21,632.18L534.33,633.18L535.45,634.18L536.56,635.17L537.66,636.17L538.76,637.17L539.85,638.17L540.92,639.17L541.99,640.17L543.04,641.17L544.08,642.17L545.11,643.17L546.13,644.16L547.13,645.16L548.11,646.16L549.08,647.16L550.04,648.16L550.98,649.16L551.90,650.16L552.81,651.16L553.71,652.16L554.58,653.15L555.45,654.15L556.30,655.15L557.13,656.15L557.95,657.15L558.75,658.15L559.54,659.15L560.31,660.15L561.07,661.15L561.81,662.14L562.54,663.14L563.25,664.14L563.95,665.14L564.63,666.14L565.30,667.14L565.95,668.14L566.59,669.14L567.21,670.14L567.82,671.13L568.41,672.13L568.98,673.13L569.54,674.13L570.09,675.13L570.62,676.13L571.14,677.13L571.64,678.13L572.12,679.13L572.59,680.12L573.05,681.12L573.49,682.12L573.92,683.12L574.33,684.12L574.72,685.12L575.10,686.12L575.47,687.12L575.82,688.12L576.15,689.12L576.47,690.11L576.78,691.11L577.07,692.11L577.34,693.11L577.60,694.11" stroke="#eda02e"/><path d="M455.56,522.30L456.07,523.30L456.58,524.30L457.10,525.30L457.63,526.30L458.16,527.29L458.69,528.29L459.23,529.29L459.77,530.29L460.32,531.29L460.87,532.29L461.42,533.29L461.98,534.29L462.55,535.29L463.12,536.28L463.69,537.28L464.27,538.28L464.85,539.28L465.43,540.28L466.02,541.28L466.62,542.28L467.22,543.28L467.82,544.28L468.42,545.27L469.04,546.27L469.65,547.27L470.27,548.27L470.89,549.27L471.52,550.27L472.15,551.27L472.79,552.27L473.43,553.27L474.07,554.26L474.72,555.26L475.38,556.26L476.03,557.26L476.69,558.26L477.36,559.26L478.03,560.26L478.70,561.26L479.38,562.26L480.06,563.25L480.74,564.25L481.43,565.25L482.13,566.25L482.82,567.25L483.52,568.25L484.23,569.25L484.94,570.25L485.65,571.25L486.37,572.24L487.09,573.24L487.81,574.24L488.54,575.24L489.27,576.24L490.01,577.24L490.75,578.24L491.50,579.24L492.25,580.24L493.00,581.23L493.77,582.23L494.53,583.23L495.30,584.23L496.08,585.23L496.86,586.23L497.65,587.23L498.45,588.23L499.25,589.23L500.06,590.22L500.87,591.22L501.69,592.22L502.51,593.22L503.35,594.22L504.19,595.22L505.04,596.22L505.89,597.22L506.75,598.22L507.62,599.21L508.50,600.21L509.38,601.21L510.27,602.21L511.17,603.21L512.08,604.21L513.00,605.21L513.93,606.21L514.86,607.21L515.81,608.20L516.76,609.20L517.73,610.20L518.71,611.20L519.70,612.20L520.70,613.20L521.71,614.20L522.74,615.20L523.78,616.20L524.84,617.19L525.91,618.19L526.99,619.19L528.09,620.19L529.21,621.19L530.34,622.19L531.47,623.19L532.61,624.19L533.73,625.19L534.85,626.18L535.95,627.18L537.02,628.18L538.07,629.18L539.08,630.18L540.06,631.18L540.99,632.18L541.87,633.18L542.69,634.18L543.46,635.17L544.18,636.17L544.85,637.17L545.48,638.17L546.07,639.17L546.62,640.17L547.15,641.17L547.64,642.17L548.11,643.17L548.56,644.16L548.99,645.16L549.41,646.16L549.83,647.16L550.23,648.16L550.63,649.16L551.04,650.16L551.44,651.16L551.85,652.16L552.26,653.15L552.66,654.15L553.07,655.15L553.47,656.15L553.87,657.15L554.26,658.15L554.65,659.15L555.04,660.15L555.42,661.15L555.79,662.14L556.16,663.14L556.52,664.14L556.87,665.14L557.22,666.14L557.55,667.14L557.88,668.14L558.20,669.14L558.52,670.14L558.82,671.13L559.12,672.13L559.41,673.13L559.69,674.13L559.96,675.13L560.23,676.13L560.49,677.13L560.74,678.13L560.98,679.13L561.21,680.12L561.44,681.12L561.66,682.12L561.86,683.12L562.07,684.12L562.26,685.12L562.45,686.12L562.62,687.12L562.79,688.12L562.95,689.12L563.11,690.11L563.25,691.11L563.39,692.11L563.52,693.11L563.64,694.11" stroke="#da1f42"/><path d="M458.58,522.30L459.23,523.29L459.88,524.29L460.52,525.28L461.17,526.28L461.81,527.27L462.46,528.27L463.10,529.26L463.74,530.26L464.38,531.25L465.02,532.25L465.66,533.24L466.31,534.24L466.95,535.23L467.59,536.23L468.23,537.22L468.88,538.22L469.52,539.21L470.17,540.20L470.81,541.20L471.46,542.19L472.11,543.19L472.76,544.18L473.42,545.18L474.07,546.17L474.73,547.17L475.39,548.16L476.06,549.16L476.72,550.15L477.39,551.14L478.06,552.14L478.74,553.13L479.41,554.13L480.10,555.12L480.78,556.12L481.47,557.11L482.16,558.11L482.86,559.10L483.56,560.10L484.27,561.09L484.98,562.09L485.69,563.08L486.41,564.08L487.14,565.07L487.87,566.06L488.60,567.06L489.35,568.05L490.09,569.05L490.85,570.04L491.61,571.04L492.37,572.03L493.14,573.03L493.92,574.02L494.71,575.02L495.50,576.01L496.30,577.01L497.10,578.00L497.92,578.99L498.74,579.99L499.57,580.98L500.40,581.98L501.25,582.97L502.10,583.97L502.96,584.96L503.83,585.96L504.71,586.95L505.60,587.95L506.49,588.94L507.40,589.94L508.31,590.93L509.23,591.93L510.17,592.92L511.11,593.91L512.06,594.91L513.02,595.90L514.00,596.90L514.98,597.89L515.97,598.89L516.98,599.88L517.99,600.88L519.02,601.87L520.06,602.87L521.11,603.86L522.17,604.86L523.24,605.85L524.32,606.85L525.42,607.84L526.53,608.84L527.65,609.83L528.78,610.82L529.92,611.82L531.08,612.81L532.25,613.81L533.44,614.80L534.63,615.80L535.84,616.79L537.07,617.79L538.31,618.78L539.56,619.78L540.82,620.77L542.10,621.77L543.40,622.76L544.71,623.75L546.03,624.75L547.37,625.74L548.72,626.74L550.09,627.73L551.48,628.73L552.87,629.72L554.29,630.72L555.72,631.71L557.17,632.71L558.63,633.70L560.11,634.70L561.60,635.69L563.12,636.68L564.65,637.68L566.19,638.67L567.75,639.67L569.33,640.66L570.93,641.66L572.55,642.65L574.18,643.65L575.83,644.64L577.50,645.64L579.19,646.63L580.89,647.63L582.62,648.62L584.36,649.62L586.12,650.61L587.90,651.61L589.66,652.60L591.02,653.59L592.39,654.58L593.73,655.56L595.04,656.55L596.32,657.54L597.57,658.53L598.79,659.52L599.98,660.51L601.14,661.49L602.28,662.48L603.39,663.47L604.47,664.46L605.53,665.45L606.56,666.44L607.57,667.42L608.56,668.41L609.52,669.40L610.46,670.39L611.38,671.38L612.27,672.37L613.15,673.36L614.01,674.34L614.84,675.33L615.66,676.32L616.46,677.31L617.25,678.30L618.01,679.28L618.76,680.27L619.50,681.26L620.22,682.25L620.92,683.24L621.62,684.23L622.29,685.21L622.96,686.20L623.61,687.19L624.26,688.18L624.89,689.17L625.51,690.16L626.12,691.14L626.73,692.13L627.32,693.12L627.91,694.11" stroke="#ff1fff"/></g><text transform="translate(508.73,572.04) rotate(43.41)" class="tw" text-anchor="middle" dy="2.4">T_w 35°C</text><circle cx="407.8" cy="623.7" r="2.35" fill="#000"/><circle cx="430" cy="625.8" r="2.35" fill="#000"/><circle cx="431.7" cy="627.5" r="2.35" fill="#000"/><circle cx="453.9" cy="630.7" r="2.35" fill="#000"/><circle cx="455.1" cy="637.2" r="2.35" fill="#000"/><circle cx="451.8" cy="639.2" r="2.35" fill="#000"/><circle cx="439.9" cy="643.9" r="2.35" fill="#000"/><circle cx="446.9" cy="649.1" r="2.35" fill="#000"/><circle cx="449" cy="653.8" r="2.35" fill="#000"/><circle cx="453.9" cy="654.1" r="2.35" fill="#000"/><circle cx="456" cy="657.3" r="2.35" fill="#000"/><circle cx="460.3" cy="654.6" r="2.35" fill="#000"/><circle cx="464.3" cy="647.1" r="2.35" fill="#000"/><circle cx="477.8" cy="640.1" r="2.35" fill="#000"/><circle cx="479.5" cy="651" r="2.35" fill="#000"/><circle cx="480.7" cy="657.7" r="2.35" fill="#000"/><circle cx="493" cy="648.3" r="2.35" fill="#000"/><circle cx="497.6" cy="650.6" r="2.35" fill="#000"/><circle cx="505.2" cy="649.8" r="2.35" fill="#000"/><circle cx="503.5" cy="652.7" r="2.35" fill="#000"/><circle cx="504.6" cy="657.4" r="2.35" fill="#000"/><circle cx="507.6" cy="659.7" r="2.35" fill="#000"/><circle cx="511.6" cy="654.8" r="2.35" fill="#000"/><circle cx="516.3" cy="650.1" r="2.35" fill="#000"/><circle cx="517.8" cy="653.9" r="2.35" fill="#000"/><circle cx="528" cy="660" r="2.35" fill="#000"/><use href="#star" x="396.3" y="616.4" fill="#0000ff"/><use href="#star" x="417.5" y="618.8" fill="#0000ff"/><use href="#star" x="418.9" y="620.5" fill="#0000ff"/><use href="#star" x="440.1" y="624" fill="#0000ff"/><use href="#star" x="441.6" y="631" fill="#0000ff"/><use href="#star" x="438.1" y="633.4" fill="#0000ff"/><use href="#star" x="426.5" y="638.6" fill="#0000ff"/><use href="#star" x="433.5" y="645" fill="#0000ff"/><use href="#star" x="435.5" y="649.4" fill="#0000ff"/><use href="#star" x="440.1" y="650.3" fill="#0000ff"/><use href="#star" x="442.2" y="653.8" fill="#0000ff"/><use href="#star" x="445.7" y="650.3" fill="#0000ff"/><use href="#star" x="449.8" y="642.7" fill="#0000ff"/><use href="#star" x="462.6" y="634.8" fill="#0000ff"/><use href="#star" x="464.3" y="647.1" fill="#0000ff"/><use href="#star" x="465.5" y="654.1" fill="#0000ff"/><use href="#star" x="477.2" y="643.9" fill="#0000ff"/><use href="#star" x="481.3" y="645.9" fill="#0000ff"/><use href="#star" x="488.3" y="645.5" fill="#0000ff"/><use href="#star" x="486.5" y="648" fill="#0000ff"/><use href="#star" x="488.9" y="650.9" fill="#0000ff"/><use href="#star" x="487.7" y="653.9" fill="#0000ff"/><use href="#star" x="491.8" y="653.9" fill="#0000ff"/><use href="#star" x="491" y="656.8" fill="#0000ff"/><use href="#star" x="495.3" y="650.6" fill="#0000ff"/><use href="#star" x="499.4" y="645.7" fill="#0000ff"/><use href="#star" x="500.5" y="649.8" fill="#0000ff"/><use href="#star" x="510.5" y="656.8" fill="#0000ff"/><rect x="210.3" y="29.3" width="120.5" height="89.2" fill="#fff" stroke="#000" stroke-width="1.2"/><text x="235.8" y="42.5" class="lt">Thresholds</text><rect x="222.1" y="49.7" width="10" height="10" fill="#ecdf32"/><text x="236.0" y="59.2" class="lg">65+ direct sun</text><rect x="222.1" y="68.5" width="10" height="10" fill="#eda02e"/><text x="238.9" y="78.0" class="lg">YA direct sun</text><rect x="222.1" y="86.8" width="10" height="10" fill="#da1f42"/><text x="239.3" y="96.1" class="lg">65+ shaded</text><rect x="222.5" y="106.5" width="10" height="10" fill="#ff1fff"/><text x="241.2" y="114.1" class="lg">YA shaded</text></svg>
</body></html>
